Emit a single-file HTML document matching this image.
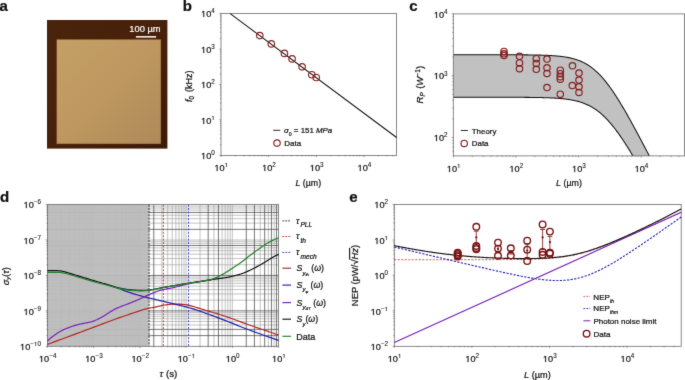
<!DOCTYPE html>
<html><head><meta charset="utf-8"><style>
html,body{margin:0;padding:0;background:#fff;width:685px;height:380px;overflow:hidden}
svg{display:block;will-change:transform}
text{font-family:"Liberation Sans", sans-serif;fill:#111;stroke:#111;stroke-width:0.22px}
.h1{fill-opacity:0;stroke-opacity:0}
</style></head><body>
<svg width="685" height="380" viewBox="0 0 685 380">
<defs><filter id="soft" x="0" y="0" width="685" height="380" filterUnits="userSpaceOnUse" color-interpolation-filters="sRGB"><feConvolveMatrix order="3" kernelMatrix="0.015 0.07 0.015 0.07 0.66 0.07 0.015 0.07 0.015" edgeMode="duplicate"/></filter></defs><g filter="url(#soft)">
<rect width="685" height="380" fill="#fff"/>
<defs><linearGradient id="tg" x1="0" y1="0" x2="1" y2="1"><stop offset="0" stop-color="#c5a066"/><stop offset="0.5" stop-color="#bd975f"/><stop offset="1" stop-color="#ae8a5b"/></linearGradient><linearGradient id="dg" x1="0" y1="0" x2="1" y2="1"><stop offset="0" stop-color="#4a230c"/><stop offset="0.6" stop-color="#46200a"/><stop offset="1" stop-color="#3a1a08"/></linearGradient></defs>
<rect x="47" y="20" width="120.4" height="128.6" fill="url(#dg)"/>
<rect x="56.5" y="39.2" width="104.5" height="104.8" fill="url(#tg)"/>
<rect x="56.5" y="39.2" width="104.5" height="104.8" fill="none" stroke="#6a2c12" stroke-width="0.5"/>
<text x="129.3" y="31.9" font-size="9.3" style="fill:#fff;stroke:#fff">100 µm</text>
<rect x="135.9" y="36.1" width="20.2" height="1.5" fill="#fff"/>
<text x="-0.6" y="11.3" font-size="15" font-weight="bold">a</text>
<text x="182.8" y="11.3" font-size="15" font-weight="bold">b</text>
<text x="409.3" y="11.4" font-size="15" font-weight="bold">c</text>
<text x="0" y="202" font-size="15" font-weight="bold">d</text>
<text x="349.2" y="202" font-size="15" font-weight="bold">e</text>
<rect x="221" y="13.6" width="175.6" height="141.8" fill="none" stroke="#6a6a6a" stroke-width="0.8"/>
<path d="M221,155.4 v1.6 M235.36,155.4 v1.0 M243.76,155.4 v1.0 M249.72,155.4 v1.0 M254.34,155.4 v1.0 M258.12,155.4 v1.0 M261.31,155.4 v1.0 M264.08,155.4 v1.0 M266.52,155.4 v1.0 M268.7,155.4 v1.6 M283.06,155.4 v1.0 M291.46,155.4 v1.0 M297.42,155.4 v1.0 M302.04,155.4 v1.0 M305.82,155.4 v1.0 M309.01,155.4 v1.0 M311.78,155.4 v1.0 M314.22,155.4 v1.0 M316.4,155.4 v1.6 M330.76,155.4 v1.0 M339.16,155.4 v1.0 M345.12,155.4 v1.0 M349.74,155.4 v1.0 M353.52,155.4 v1.0 M356.71,155.4 v1.0 M359.48,155.4 v1.0 M361.92,155.4 v1.0 M364.1,155.4 v1.6 M378.46,155.4 v1.0 M386.86,155.4 v1.0 M392.82,155.4 v1.0 M221,155.4 h-1.6 M221,144.73 h-1.0 M221,138.49 h-1.0 M221,134.06 h-1.0 M221,130.62 h-1.0 M221,127.81 h-1.0 M221,125.44 h-1.0 M221,123.39 h-1.0 M221,121.57 h-1.0 M221,119.95 h-1.6 M221,109.28 h-1.0 M221,103.04 h-1.0 M221,98.61 h-1.0 M221,95.17 h-1.0 M221,92.36 h-1.0 M221,89.99 h-1.0 M221,87.94 h-1.0 M221,86.12 h-1.0 M221,84.5 h-1.6 M221,73.83 h-1.0 M221,67.59 h-1.0 M221,63.16 h-1.0 M221,59.72 h-1.0 M221,56.91 h-1.0 M221,54.54 h-1.0 M221,52.49 h-1.0 M221,50.67 h-1.0 M221,49.05 h-1.6 M221,38.38 h-1.0 M221,32.14 h-1.0 M221,27.71 h-1.0 M221,24.27 h-1.0 M221,21.46 h-1.0 M221,19.09 h-1.0 M221,17.04 h-1.0 M221,15.22 h-1.0 M221,13.6 h-1.6" stroke="#555" stroke-width="0.6" fill="none"/>
<text x="221.3" y="170.8" text-anchor="middle" font-size="9.2"><tspan class="h1">1</tspan>0<tspan font-size="6.3" dy="-3.9" style="stroke-width:0.08px"><tspan class="h1">1</tspan></tspan></text>
<text x="269" y="170.8" text-anchor="middle" font-size="9.2"><tspan class="h1">1</tspan>0<tspan font-size="6.3" dy="-3.9" style="stroke-width:0.08px">2</tspan></text>
<text x="316.7" y="170.8" text-anchor="middle" font-size="9.2"><tspan class="h1">1</tspan>0<tspan font-size="6.3" dy="-3.9" style="stroke-width:0.08px">3</tspan></text>
<text x="364.4" y="170.8" text-anchor="middle" font-size="9.2"><tspan class="h1">1</tspan>0<tspan font-size="6.3" dy="-3.9" style="stroke-width:0.08px">4</tspan></text>
<text x="214.8" y="159.1" text-anchor="end" font-size="9.2"><tspan class="h1">1</tspan>0<tspan font-size="6.3" dy="-3.9" style="stroke-width:0.08px">0</tspan></text>
<text x="214.8" y="123.65" text-anchor="end" font-size="9.2"><tspan class="h1">1</tspan>0<tspan font-size="6.3" dy="-3.9" style="stroke-width:0.08px"><tspan class="h1">1</tspan></tspan></text>
<text x="214.8" y="88.2" text-anchor="end" font-size="9.2"><tspan class="h1">1</tspan>0<tspan font-size="6.3" dy="-3.9" style="stroke-width:0.08px">2</tspan></text>
<text x="214.8" y="52.75" text-anchor="end" font-size="9.2"><tspan class="h1">1</tspan>0<tspan font-size="6.3" dy="-3.9" style="stroke-width:0.08px">3</tspan></text>
<text x="214.8" y="17.3" text-anchor="end" font-size="9.2"><tspan class="h1">1</tspan>0<tspan font-size="6.3" dy="-3.9" style="stroke-width:0.08px">4</tspan></text>
<line x1="230.2" y1="13.6" x2="396.6" y2="137.5" stroke="#111" stroke-width="1.05"/>
<circle cx="259.8" cy="35.6" r="3.25" fill="none" stroke="#862020" stroke-width="1.15"/>
<circle cx="271.3" cy="43.9" r="3.25" fill="none" stroke="#862020" stroke-width="1.15"/>
<circle cx="284.4" cy="53.4" r="3.25" fill="none" stroke="#862020" stroke-width="1.15"/>
<circle cx="292.1" cy="58.9" r="3.25" fill="none" stroke="#862020" stroke-width="1.15"/>
<circle cx="302.1" cy="66.8" r="3.25" fill="none" stroke="#862020" stroke-width="1.15"/>
<circle cx="311.8" cy="74.7" r="3.25" fill="none" stroke="#862020" stroke-width="1.15"/>
<circle cx="316.2" cy="77.5" r="3.25" fill="none" stroke="#862020" stroke-width="1.15"/>
<line x1="273.2" y1="130.3" x2="280.2" y2="130.3" stroke="#111" stroke-width="0.9"/>
<text x="284" y="133" font-size="7.9"><tspan font-style="italic">σ</tspan><tspan font-size="5.2" dy="3">0</tspan><tspan dy="-3"> = 151 </tspan><tspan font-style="italic">MPa</tspan></text>
<circle cx="277" cy="143.1" r="3.25" fill="none" stroke="#862020" stroke-width="1.15"/>
<text x="284.3" y="146" font-size="8">Data</text>
<text x="308.3" y="186" font-size="8.8" text-anchor="middle"><tspan font-style="italic">L</tspan> (µm)</text>
<text transform="translate(191.7,86.3) rotate(-90)" font-size="9" text-anchor="middle"><tspan font-style="italic">f</tspan><tspan font-size="6.3" dy="2">0</tspan><tspan dy="-2" dx="1.6"> (kHz)</tspan></text>
<path d="M453.4,54.74 L453.98,54.74 L454.56,54.74 L455.14,54.74 L455.72,54.74 L456.3,54.74 L456.87,54.74 L457.45,54.74 L458.03,54.74 L458.61,54.74 L459.19,54.74 L459.77,54.74 L460.35,54.74 L460.93,54.74 L461.51,54.74 L462.09,54.74 L462.66,54.74 L463.24,54.74 L463.82,54.74 L464.4,54.74 L464.98,54.74 L465.56,54.74 L466.14,54.74 L466.72,54.74 L467.3,54.74 L467.88,54.74 L468.46,54.74 L469.03,54.74 L469.61,54.74 L470.19,54.74 L470.77,54.74 L471.35,54.74 L471.93,54.74 L472.51,54.74 L473.09,54.74 L473.67,54.74 L474.25,54.74 L474.82,54.74 L475.4,54.74 L475.98,54.74 L476.56,54.74 L477.14,54.74 L477.72,54.74 L478.3,54.74 L478.88,54.74 L479.46,54.74 L480.04,54.74 L480.62,54.74 L481.19,54.74 L481.77,54.74 L482.35,54.74 L482.93,54.74 L483.51,54.74 L484.09,54.74 L484.67,54.74 L485.25,54.74 L485.83,54.74 L486.41,54.74 L486.98,54.75 L487.56,54.75 L488.14,54.75 L488.72,54.75 L489.3,54.75 L489.88,54.75 L490.46,54.75 L491.04,54.75 L491.62,54.75 L492.2,54.75 L492.78,54.75 L493.35,54.75 L493.93,54.75 L494.51,54.75 L495.09,54.75 L495.67,54.75 L496.25,54.75 L496.83,54.75 L497.41,54.75 L497.99,54.75 L498.57,54.76 L499.14,54.76 L499.72,54.76 L500.3,54.76 L500.88,54.76 L501.46,54.76 L502.04,54.76 L502.62,54.76 L503.2,54.76 L503.78,54.76 L504.36,54.76 L504.94,54.77 L505.51,54.77 L506.09,54.77 L506.67,54.77 L507.25,54.77 L507.83,54.77 L508.41,54.77 L508.99,54.78 L509.57,54.78 L510.15,54.78 L510.73,54.78 L511.3,54.78 L511.88,54.78 L512.46,54.79 L513.04,54.79 L513.62,54.79 L514.2,54.79 L514.78,54.8 L515.36,54.8 L515.94,54.8 L516.52,54.8 L517.1,54.81 L517.67,54.81 L518.25,54.81 L518.83,54.82 L519.41,54.82 L519.99,54.82 L520.57,54.83 L521.15,54.83 L521.73,54.83 L522.31,54.84 L522.89,54.84 L523.47,54.85 L524.04,54.85 L524.62,54.86 L525.2,54.86 L525.78,54.87 L526.36,54.87 L526.94,54.88 L527.52,54.89 L528.1,54.89 L528.68,54.9 L529.26,54.91 L529.83,54.91 L530.41,54.92 L530.99,54.93 L531.57,54.94 L532.15,54.95 L532.73,54.95 L533.31,54.96 L533.89,54.97 L534.47,54.98 L535.05,54.99 L535.63,55.01 L536.2,55.02 L536.78,55.03 L537.36,55.04 L537.94,55.05 L538.52,55.07 L539.1,55.08 L539.68,55.1 L540.26,55.11 L540.84,55.13 L541.42,55.15 L541.99,55.16 L542.57,55.18 L543.15,55.2 L543.73,55.22 L544.31,55.24 L544.89,55.26 L545.47,55.29 L546.05,55.31 L546.63,55.34 L547.21,55.36 L547.79,55.39 L548.36,55.42 L548.94,55.44 L549.52,55.47 L550.1,55.51 L550.68,55.54 L551.26,55.57 L551.84,55.61 L552.42,55.65 L553,55.69 L553.58,55.73 L554.15,55.77 L554.73,55.81 L555.31,55.86 L555.89,55.91 L556.47,55.95 L557.05,56.01 L557.63,56.06 L558.21,56.12 L558.79,56.17 L559.37,56.24 L559.95,56.3 L560.52,56.36 L561.1,56.43 L561.68,56.5 L562.26,56.58 L562.84,56.66 L563.42,56.74 L564,56.82 L564.58,56.91 L565.16,57 L565.74,57.09 L566.31,57.19 L566.89,57.29 L567.47,57.39 L568.05,57.5 L568.63,57.62 L569.21,57.74 L569.79,57.86 L570.37,57.99 L570.95,58.12 L571.53,58.26 L572.11,58.4 L572.68,58.55 L573.26,58.7 L573.84,58.86 L574.42,59.03 L575,59.2 L575.58,59.38 L576.16,59.56 L576.74,59.75 L577.32,59.95 L577.9,60.16 L578.47,60.37 L579.05,60.59 L579.63,60.82 L580.21,61.05 L580.79,61.3 L581.37,61.55 L581.95,61.81 L582.53,62.08 L583.11,62.35 L583.69,62.64 L584.27,62.94 L584.84,63.24 L585.42,63.56 L586,63.88 L586.58,64.21 L587.16,64.56 L587.74,64.91 L588.32,65.28 L588.9,65.66 L589.48,66.04 L590.06,66.44 L590.63,66.85 L591.21,67.27 L591.79,67.7 L592.37,68.14 L592.95,68.6 L593.53,69.06 L594.11,69.54 L594.69,70.03 L595.27,70.53 L595.85,71.05 L596.43,71.57 L597,72.11 L597.58,72.66 L598.16,73.22 L598.74,73.8 L599.32,74.38 L599.9,74.98 L600.48,75.59 L601.06,76.22 L601.64,76.85 L602.22,77.5 L602.79,78.16 L603.37,78.83 L603.95,79.51 L604.53,80.2 L605.11,80.91 L605.69,81.62 L606.27,82.35 L606.85,83.09 L607.43,83.84 L608.01,84.6 L608.59,85.37 L609.16,86.16 L609.74,86.95 L610.32,87.75 L610.9,88.56 L611.48,89.39 L612.06,90.22 L612.64,91.06 L613.22,91.91 L613.8,92.77 L614.38,93.64 L614.95,94.52 L615.53,95.4 L616.11,96.3 L616.69,97.2 L617.27,98.11 L617.85,99.03 L618.43,99.96 L619.01,100.89 L619.59,101.83 L620.17,102.78 L620.75,103.73 L621.32,104.69 L621.9,105.66 L622.48,106.63 L623.06,107.61 L623.64,108.6 L624.22,109.59 L624.8,110.58 L625.38,111.59 L625.96,112.59 L626.54,113.6 L627.12,114.62 L627.69,115.64 L628.27,116.67 L628.85,117.7 L629.43,118.73 L630.01,119.77 L630.59,120.81 L631.17,121.86 L631.75,122.91 L632.33,123.96 L632.91,125.02 L633.48,126.08 L634.06,127.14 L634.64,128.2 L635.22,129.27 L635.8,130.35 L636.38,131.42 L636.96,132.5 L637.54,133.58 L638.12,134.66 L638.7,135.74 L639.28,136.83 L639.85,137.92 L640.43,139.01 L641.01,140.1 L641.59,141.2 L642.17,142.29 L642.75,143.39 L643.33,144.49 L643.91,145.59 L644.49,146.7 L645.07,147.8 L645.64,148.91 L646.22,150.02 L646.8,151.13 L647.38,152.24 L647.96,153.35 L648.54,154.46 L649.12,155.58 L649.29,155.9 L632.93,155.9 L632.91,155.87 L632.33,154.9 L631.75,153.94 L631.17,152.98 L630.59,152.03 L630.01,151.08 L629.43,150.14 L628.85,149.21 L628.27,148.28 L627.69,147.35 L627.12,146.43 L626.54,145.52 L625.96,144.61 L625.38,143.71 L624.8,142.82 L624.22,141.93 L623.64,141.05 L623.06,140.17 L622.48,139.31 L621.9,138.45 L621.32,137.6 L620.75,136.75 L620.17,135.92 L619.59,135.09 L619.01,134.27 L618.43,133.46 L617.85,132.65 L617.27,131.86 L616.69,131.07 L616.11,130.29 L615.53,129.53 L614.95,128.77 L614.38,128.02 L613.8,127.28 L613.22,126.55 L612.64,125.83 L612.06,125.12 L611.48,124.42 L610.9,123.73 L610.32,123.05 L609.74,122.38 L609.16,121.73 L608.59,121.08 L608.01,120.44 L607.43,119.82 L606.85,119.2 L606.27,118.6 L605.69,118.01 L605.11,117.42 L604.53,116.85 L603.95,116.29 L603.37,115.74 L602.79,115.21 L602.22,114.68 L601.64,114.16 L601.06,113.66 L600.48,113.17 L599.9,112.68 L599.32,112.21 L598.74,111.75 L598.16,111.3 L597.58,110.86 L597,110.43 L596.43,110.01 L595.85,109.61 L595.27,109.21 L594.69,108.82 L594.11,108.45 L593.53,108.08 L592.95,107.72 L592.37,107.37 L591.79,107.03 L591.21,106.71 L590.63,106.39 L590.06,106.08 L589.48,105.78 L588.9,105.48 L588.32,105.2 L587.74,104.92 L587.16,104.66 L586.58,104.4 L586,104.15 L585.42,103.9 L584.84,103.67 L584.27,103.44 L583.69,103.22 L583.11,103 L582.53,102.8 L581.95,102.59 L581.37,102.4 L580.79,102.21 L580.21,102.03 L579.63,101.86 L579.05,101.69 L578.47,101.52 L577.9,101.37 L577.32,101.21 L576.74,101.07 L576.16,100.92 L575.58,100.79 L575,100.65 L574.42,100.53 L573.84,100.4 L573.26,100.28 L572.68,100.17 L572.11,100.06 L571.53,99.95 L570.95,99.85 L570.37,99.75 L569.79,99.65 L569.21,99.56 L568.63,99.47 L568.05,99.39 L567.47,99.31 L566.89,99.23 L566.31,99.15 L565.74,99.08 L565.16,99.01 L564.58,98.94 L564,98.87 L563.42,98.81 L562.84,98.75 L562.26,98.69 L561.68,98.63 L561.1,98.58 L560.52,98.53 L559.95,98.48 L559.37,98.43 L558.79,98.38 L558.21,98.34 L557.63,98.3 L557.05,98.26 L556.47,98.22 L555.89,98.18 L555.31,98.14 L554.73,98.11 L554.15,98.07 L553.58,98.04 L553,98.01 L552.42,97.98 L551.84,97.95 L551.26,97.92 L550.68,97.9 L550.1,97.87 L549.52,97.85 L548.94,97.82 L548.36,97.8 L547.79,97.78 L547.21,97.76 L546.63,97.74 L546.05,97.72 L545.47,97.7 L544.89,97.68 L544.31,97.66 L543.73,97.65 L543.15,97.63 L542.57,97.61 L541.99,97.6 L541.42,97.59 L540.84,97.57 L540.26,97.56 L539.68,97.55 L539.1,97.53 L538.52,97.52 L537.94,97.51 L537.36,97.5 L536.78,97.49 L536.2,97.48 L535.63,97.47 L535.05,97.46 L534.47,97.45 L533.89,97.45 L533.31,97.44 L532.73,97.43 L532.15,97.42 L531.57,97.42 L530.99,97.41 L530.41,97.4 L529.83,97.4 L529.26,97.39 L528.68,97.38 L528.1,97.38 L527.52,97.37 L526.94,97.37 L526.36,97.36 L525.78,97.36 L525.2,97.35 L524.62,97.35 L524.04,97.35 L523.47,97.34 L522.89,97.34 L522.31,97.33 L521.73,97.33 L521.15,97.33 L520.57,97.32 L519.99,97.32 L519.41,97.32 L518.83,97.31 L518.25,97.31 L517.67,97.31 L517.1,97.31 L516.52,97.3 L515.94,97.3 L515.36,97.3 L514.78,97.3 L514.2,97.29 L513.62,97.29 L513.04,97.29 L512.46,97.29 L511.88,97.29 L511.3,97.29 L510.73,97.28 L510.15,97.28 L509.57,97.28 L508.99,97.28 L508.41,97.28 L507.83,97.28 L507.25,97.27 L506.67,97.27 L506.09,97.27 L505.51,97.27 L504.94,97.27 L504.36,97.27 L503.78,97.27 L503.2,97.27 L502.62,97.27 L502.04,97.27 L501.46,97.26 L500.88,97.26 L500.3,97.26 L499.72,97.26 L499.14,97.26 L498.57,97.26 L497.99,97.26 L497.41,97.26 L496.83,97.26 L496.25,97.26 L495.67,97.26 L495.09,97.26 L494.51,97.26 L493.93,97.26 L493.35,97.26 L492.78,97.25 L492.2,97.25 L491.62,97.25 L491.04,97.25 L490.46,97.25 L489.88,97.25 L489.3,97.25 L488.72,97.25 L488.14,97.25 L487.56,97.25 L486.98,97.25 L486.41,97.25 L485.83,97.25 L485.25,97.25 L484.67,97.25 L484.09,97.25 L483.51,97.25 L482.93,97.25 L482.35,97.25 L481.77,97.25 L481.19,97.25 L480.62,97.25 L480.04,97.25 L479.46,97.25 L478.88,97.25 L478.3,97.25 L477.72,97.25 L477.14,97.25 L476.56,97.25 L475.98,97.25 L475.4,97.25 L474.82,97.25 L474.25,97.25 L473.67,97.25 L473.09,97.25 L472.51,97.25 L471.93,97.25 L471.35,97.25 L470.77,97.25 L470.19,97.25 L469.61,97.25 L469.03,97.25 L468.46,97.25 L467.88,97.25 L467.3,97.25 L466.72,97.25 L466.14,97.25 L465.56,97.25 L464.98,97.25 L464.4,97.25 L463.82,97.24 L463.24,97.24 L462.66,97.24 L462.09,97.24 L461.51,97.24 L460.93,97.24 L460.35,97.24 L459.77,97.24 L459.19,97.24 L458.61,97.24 L458.03,97.24 L457.45,97.24 L456.87,97.24 L456.3,97.24 L455.72,97.24 L455.14,97.24 L454.56,97.24 L453.98,97.24 L453.4,97.24 Z" fill="#c1c1c1" stroke="none"/>
<path d="M453.4,54.74 L453.98,54.74 L454.56,54.74 L455.14,54.74 L455.72,54.74 L456.3,54.74 L456.87,54.74 L457.45,54.74 L458.03,54.74 L458.61,54.74 L459.19,54.74 L459.77,54.74 L460.35,54.74 L460.93,54.74 L461.51,54.74 L462.09,54.74 L462.66,54.74 L463.24,54.74 L463.82,54.74 L464.4,54.74 L464.98,54.74 L465.56,54.74 L466.14,54.74 L466.72,54.74 L467.3,54.74 L467.88,54.74 L468.46,54.74 L469.03,54.74 L469.61,54.74 L470.19,54.74 L470.77,54.74 L471.35,54.74 L471.93,54.74 L472.51,54.74 L473.09,54.74 L473.67,54.74 L474.25,54.74 L474.82,54.74 L475.4,54.74 L475.98,54.74 L476.56,54.74 L477.14,54.74 L477.72,54.74 L478.3,54.74 L478.88,54.74 L479.46,54.74 L480.04,54.74 L480.62,54.74 L481.19,54.74 L481.77,54.74 L482.35,54.74 L482.93,54.74 L483.51,54.74 L484.09,54.74 L484.67,54.74 L485.25,54.74 L485.83,54.74 L486.41,54.74 L486.98,54.75 L487.56,54.75 L488.14,54.75 L488.72,54.75 L489.3,54.75 L489.88,54.75 L490.46,54.75 L491.04,54.75 L491.62,54.75 L492.2,54.75 L492.78,54.75 L493.35,54.75 L493.93,54.75 L494.51,54.75 L495.09,54.75 L495.67,54.75 L496.25,54.75 L496.83,54.75 L497.41,54.75 L497.99,54.75 L498.57,54.76 L499.14,54.76 L499.72,54.76 L500.3,54.76 L500.88,54.76 L501.46,54.76 L502.04,54.76 L502.62,54.76 L503.2,54.76 L503.78,54.76 L504.36,54.76 L504.94,54.77 L505.51,54.77 L506.09,54.77 L506.67,54.77 L507.25,54.77 L507.83,54.77 L508.41,54.77 L508.99,54.78 L509.57,54.78 L510.15,54.78 L510.73,54.78 L511.3,54.78 L511.88,54.78 L512.46,54.79 L513.04,54.79 L513.62,54.79 L514.2,54.79 L514.78,54.8 L515.36,54.8 L515.94,54.8 L516.52,54.8 L517.1,54.81 L517.67,54.81 L518.25,54.81 L518.83,54.82 L519.41,54.82 L519.99,54.82 L520.57,54.83 L521.15,54.83 L521.73,54.83 L522.31,54.84 L522.89,54.84 L523.47,54.85 L524.04,54.85 L524.62,54.86 L525.2,54.86 L525.78,54.87 L526.36,54.87 L526.94,54.88 L527.52,54.89 L528.1,54.89 L528.68,54.9 L529.26,54.91 L529.83,54.91 L530.41,54.92 L530.99,54.93 L531.57,54.94 L532.15,54.95 L532.73,54.95 L533.31,54.96 L533.89,54.97 L534.47,54.98 L535.05,54.99 L535.63,55.01 L536.2,55.02 L536.78,55.03 L537.36,55.04 L537.94,55.05 L538.52,55.07 L539.1,55.08 L539.68,55.1 L540.26,55.11 L540.84,55.13 L541.42,55.15 L541.99,55.16 L542.57,55.18 L543.15,55.2 L543.73,55.22 L544.31,55.24 L544.89,55.26 L545.47,55.29 L546.05,55.31 L546.63,55.34 L547.21,55.36 L547.79,55.39 L548.36,55.42 L548.94,55.44 L549.52,55.47 L550.1,55.51 L550.68,55.54 L551.26,55.57 L551.84,55.61 L552.42,55.65 L553,55.69 L553.58,55.73 L554.15,55.77 L554.73,55.81 L555.31,55.86 L555.89,55.91 L556.47,55.95 L557.05,56.01 L557.63,56.06 L558.21,56.12 L558.79,56.17 L559.37,56.24 L559.95,56.3 L560.52,56.36 L561.1,56.43 L561.68,56.5 L562.26,56.58 L562.84,56.66 L563.42,56.74 L564,56.82 L564.58,56.91 L565.16,57 L565.74,57.09 L566.31,57.19 L566.89,57.29 L567.47,57.39 L568.05,57.5 L568.63,57.62 L569.21,57.74 L569.79,57.86 L570.37,57.99 L570.95,58.12 L571.53,58.26 L572.11,58.4 L572.68,58.55 L573.26,58.7 L573.84,58.86 L574.42,59.03 L575,59.2 L575.58,59.38 L576.16,59.56 L576.74,59.75 L577.32,59.95 L577.9,60.16 L578.47,60.37 L579.05,60.59 L579.63,60.82 L580.21,61.05 L580.79,61.3 L581.37,61.55 L581.95,61.81 L582.53,62.08 L583.11,62.35 L583.69,62.64 L584.27,62.94 L584.84,63.24 L585.42,63.56 L586,63.88 L586.58,64.21 L587.16,64.56 L587.74,64.91 L588.32,65.28 L588.9,65.66 L589.48,66.04 L590.06,66.44 L590.63,66.85 L591.21,67.27 L591.79,67.7 L592.37,68.14 L592.95,68.6 L593.53,69.06 L594.11,69.54 L594.69,70.03 L595.27,70.53 L595.85,71.05 L596.43,71.57 L597,72.11 L597.58,72.66 L598.16,73.22 L598.74,73.8 L599.32,74.38 L599.9,74.98 L600.48,75.59 L601.06,76.22 L601.64,76.85 L602.22,77.5 L602.79,78.16 L603.37,78.83 L603.95,79.51 L604.53,80.2 L605.11,80.91 L605.69,81.62 L606.27,82.35 L606.85,83.09 L607.43,83.84 L608.01,84.6 L608.59,85.37 L609.16,86.16 L609.74,86.95 L610.32,87.75 L610.9,88.56 L611.48,89.39 L612.06,90.22 L612.64,91.06 L613.22,91.91 L613.8,92.77 L614.38,93.64 L614.95,94.52 L615.53,95.4 L616.11,96.3 L616.69,97.2 L617.27,98.11 L617.85,99.03 L618.43,99.96 L619.01,100.89 L619.59,101.83 L620.17,102.78 L620.75,103.73 L621.32,104.69 L621.9,105.66 L622.48,106.63 L623.06,107.61 L623.64,108.6 L624.22,109.59 L624.8,110.58 L625.38,111.59 L625.96,112.59 L626.54,113.6 L627.12,114.62 L627.69,115.64 L628.27,116.67 L628.85,117.7 L629.43,118.73 L630.01,119.77 L630.59,120.81 L631.17,121.86 L631.75,122.91 L632.33,123.96 L632.91,125.02 L633.48,126.08 L634.06,127.14 L634.64,128.2 L635.22,129.27 L635.8,130.35 L636.38,131.42 L636.96,132.5 L637.54,133.58 L638.12,134.66 L638.7,135.74 L639.28,136.83 L639.85,137.92 L640.43,139.01 L641.01,140.1 L641.59,141.2 L642.17,142.29 L642.75,143.39 L643.33,144.49 L643.91,145.59 L644.49,146.7 L645.07,147.8 L645.64,148.91 L646.22,150.02 L646.8,151.13 L647.38,152.24 L647.96,153.35 L648.54,154.46 L649.12,155.58 L649.29,155.9" fill="none" stroke="#111" stroke-width="1.05"/>
<path d="M453.4,97.24 L453.98,97.24 L454.56,97.24 L455.14,97.24 L455.72,97.24 L456.3,97.24 L456.87,97.24 L457.45,97.24 L458.03,97.24 L458.61,97.24 L459.19,97.24 L459.77,97.24 L460.35,97.24 L460.93,97.24 L461.51,97.24 L462.09,97.24 L462.66,97.24 L463.24,97.24 L463.82,97.24 L464.4,97.25 L464.98,97.25 L465.56,97.25 L466.14,97.25 L466.72,97.25 L467.3,97.25 L467.88,97.25 L468.46,97.25 L469.03,97.25 L469.61,97.25 L470.19,97.25 L470.77,97.25 L471.35,97.25 L471.93,97.25 L472.51,97.25 L473.09,97.25 L473.67,97.25 L474.25,97.25 L474.82,97.25 L475.4,97.25 L475.98,97.25 L476.56,97.25 L477.14,97.25 L477.72,97.25 L478.3,97.25 L478.88,97.25 L479.46,97.25 L480.04,97.25 L480.62,97.25 L481.19,97.25 L481.77,97.25 L482.35,97.25 L482.93,97.25 L483.51,97.25 L484.09,97.25 L484.67,97.25 L485.25,97.25 L485.83,97.25 L486.41,97.25 L486.98,97.25 L487.56,97.25 L488.14,97.25 L488.72,97.25 L489.3,97.25 L489.88,97.25 L490.46,97.25 L491.04,97.25 L491.62,97.25 L492.2,97.25 L492.78,97.25 L493.35,97.26 L493.93,97.26 L494.51,97.26 L495.09,97.26 L495.67,97.26 L496.25,97.26 L496.83,97.26 L497.41,97.26 L497.99,97.26 L498.57,97.26 L499.14,97.26 L499.72,97.26 L500.3,97.26 L500.88,97.26 L501.46,97.26 L502.04,97.27 L502.62,97.27 L503.2,97.27 L503.78,97.27 L504.36,97.27 L504.94,97.27 L505.51,97.27 L506.09,97.27 L506.67,97.27 L507.25,97.27 L507.83,97.28 L508.41,97.28 L508.99,97.28 L509.57,97.28 L510.15,97.28 L510.73,97.28 L511.3,97.29 L511.88,97.29 L512.46,97.29 L513.04,97.29 L513.62,97.29 L514.2,97.29 L514.78,97.3 L515.36,97.3 L515.94,97.3 L516.52,97.3 L517.1,97.31 L517.67,97.31 L518.25,97.31 L518.83,97.31 L519.41,97.32 L519.99,97.32 L520.57,97.32 L521.15,97.33 L521.73,97.33 L522.31,97.33 L522.89,97.34 L523.47,97.34 L524.04,97.35 L524.62,97.35 L525.2,97.35 L525.78,97.36 L526.36,97.36 L526.94,97.37 L527.52,97.37 L528.1,97.38 L528.68,97.38 L529.26,97.39 L529.83,97.4 L530.41,97.4 L530.99,97.41 L531.57,97.42 L532.15,97.42 L532.73,97.43 L533.31,97.44 L533.89,97.45 L534.47,97.45 L535.05,97.46 L535.63,97.47 L536.2,97.48 L536.78,97.49 L537.36,97.5 L537.94,97.51 L538.52,97.52 L539.1,97.53 L539.68,97.55 L540.26,97.56 L540.84,97.57 L541.42,97.59 L541.99,97.6 L542.57,97.61 L543.15,97.63 L543.73,97.65 L544.31,97.66 L544.89,97.68 L545.47,97.7 L546.05,97.72 L546.63,97.74 L547.21,97.76 L547.79,97.78 L548.36,97.8 L548.94,97.82 L549.52,97.85 L550.1,97.87 L550.68,97.9 L551.26,97.92 L551.84,97.95 L552.42,97.98 L553,98.01 L553.58,98.04 L554.15,98.07 L554.73,98.11 L555.31,98.14 L555.89,98.18 L556.47,98.22 L557.05,98.26 L557.63,98.3 L558.21,98.34 L558.79,98.38 L559.37,98.43 L559.95,98.48 L560.52,98.53 L561.1,98.58 L561.68,98.63 L562.26,98.69 L562.84,98.75 L563.42,98.81 L564,98.87 L564.58,98.94 L565.16,99.01 L565.74,99.08 L566.31,99.15 L566.89,99.23 L567.47,99.31 L568.05,99.39 L568.63,99.47 L569.21,99.56 L569.79,99.65 L570.37,99.75 L570.95,99.85 L571.53,99.95 L572.11,100.06 L572.68,100.17 L573.26,100.28 L573.84,100.4 L574.42,100.53 L575,100.65 L575.58,100.79 L576.16,100.92 L576.74,101.07 L577.32,101.21 L577.9,101.37 L578.47,101.52 L579.05,101.69 L579.63,101.86 L580.21,102.03 L580.79,102.21 L581.37,102.4 L581.95,102.59 L582.53,102.8 L583.11,103 L583.69,103.22 L584.27,103.44 L584.84,103.67 L585.42,103.9 L586,104.15 L586.58,104.4 L587.16,104.66 L587.74,104.92 L588.32,105.2 L588.9,105.48 L589.48,105.78 L590.06,106.08 L590.63,106.39 L591.21,106.71 L591.79,107.03 L592.37,107.37 L592.95,107.72 L593.53,108.08 L594.11,108.45 L594.69,108.82 L595.27,109.21 L595.85,109.61 L596.43,110.01 L597,110.43 L597.58,110.86 L598.16,111.3 L598.74,111.75 L599.32,112.21 L599.9,112.68 L600.48,113.17 L601.06,113.66 L601.64,114.16 L602.22,114.68 L602.79,115.21 L603.37,115.74 L603.95,116.29 L604.53,116.85 L605.11,117.42 L605.69,118.01 L606.27,118.6 L606.85,119.2 L607.43,119.82 L608.01,120.44 L608.59,121.08 L609.16,121.73 L609.74,122.38 L610.32,123.05 L610.9,123.73 L611.48,124.42 L612.06,125.12 L612.64,125.83 L613.22,126.55 L613.8,127.28 L614.38,128.02 L614.95,128.77 L615.53,129.53 L616.11,130.29 L616.69,131.07 L617.27,131.86 L617.85,132.65 L618.43,133.46 L619.01,134.27 L619.59,135.09 L620.17,135.92 L620.75,136.75 L621.32,137.6 L621.9,138.45 L622.48,139.31 L623.06,140.17 L623.64,141.05 L624.22,141.93 L624.8,142.82 L625.38,143.71 L625.96,144.61 L626.54,145.52 L627.12,146.43 L627.69,147.35 L628.27,148.28 L628.85,149.21 L629.43,150.14 L630.01,151.08 L630.59,152.03 L631.17,152.98 L631.75,153.94 L632.33,154.9 L632.91,155.87 L632.93,155.9" fill="none" stroke="#111" stroke-width="1.05"/>
<rect x="453.3" y="13.9" width="231.2" height="142" fill="none" stroke="#6a6a6a" stroke-width="0.8"/>
<path d="M453.4,155.9 v1.6 M472.24,155.9 v1.0 M483.27,155.9 v1.0 M491.09,155.9 v1.0 M497.16,155.9 v1.0 M502.11,155.9 v1.0 M506.3,155.9 v1.0 M509.93,155.9 v1.0 M513.14,155.9 v1.0 M516,155.9 v1.6 M534.84,155.9 v1.0 M545.87,155.9 v1.0 M553.69,155.9 v1.0 M559.76,155.9 v1.0 M564.71,155.9 v1.0 M568.9,155.9 v1.0 M572.53,155.9 v1.0 M575.74,155.9 v1.0 M578.6,155.9 v1.6 M597.44,155.9 v1.0 M608.47,155.9 v1.0 M616.29,155.9 v1.0 M622.36,155.9 v1.0 M627.31,155.9 v1.0 M631.5,155.9 v1.0 M635.13,155.9 v1.0 M638.34,155.9 v1.0 M641.2,155.9 v1.6 M660.04,155.9 v1.0 M671.07,155.9 v1.0 M678.89,155.9 v1.0 M453.3,151.21 h-1.0 M453.3,147.07 h-1.0 M453.3,143.49 h-1.0 M453.3,140.33 h-1.0 M453.3,137.5 h-1.6 M453.3,118.9 h-1.0 M453.3,108.01 h-1.0 M453.3,100.29 h-1.0 M453.3,94.3 h-1.0 M453.3,89.41 h-1.0 M453.3,85.27 h-1.0 M453.3,81.69 h-1.0 M453.3,78.53 h-1.0 M453.3,75.7 h-1.6 M453.3,57.1 h-1.0 M453.3,46.21 h-1.0 M453.3,38.49 h-1.0 M453.3,32.5 h-1.0 M453.3,27.61 h-1.0 M453.3,23.47 h-1.0 M453.3,19.89 h-1.0 M453.3,16.73 h-1.0 M453.3,13.9 h-1.6" stroke="#555" stroke-width="0.6" fill="none"/>
<text x="453.7" y="171.5" text-anchor="middle" font-size="9.2"><tspan class="h1">1</tspan>0<tspan font-size="6.3" dy="-3.9" style="stroke-width:0.08px"><tspan class="h1">1</tspan></tspan></text>
<text x="516.3" y="171.5" text-anchor="middle" font-size="9.2"><tspan class="h1">1</tspan>0<tspan font-size="6.3" dy="-3.9" style="stroke-width:0.08px">2</tspan></text>
<text x="578.9" y="171.5" text-anchor="middle" font-size="9.2"><tspan class="h1">1</tspan>0<tspan font-size="6.3" dy="-3.9" style="stroke-width:0.08px">3</tspan></text>
<text x="641.5" y="171.5" text-anchor="middle" font-size="9.2"><tspan class="h1">1</tspan>0<tspan font-size="6.3" dy="-3.9" style="stroke-width:0.08px">4</tspan></text>
<text x="447.6" y="141.2" text-anchor="end" font-size="9.2"><tspan class="h1">1</tspan>0<tspan font-size="6.3" dy="-3.9" style="stroke-width:0.08px">2</tspan></text>
<text x="447.6" y="79.4" text-anchor="end" font-size="9.2"><tspan class="h1">1</tspan>0<tspan font-size="6.3" dy="-3.9" style="stroke-width:0.08px">3</tspan></text>
<text x="447.6" y="17.6" text-anchor="end" font-size="9.2"><tspan class="h1">1</tspan>0<tspan font-size="6.3" dy="-3.9" style="stroke-width:0.08px">4</tspan></text>
<circle cx="504" cy="51.4" r="3.2" fill="none" stroke="#861818" stroke-width="1.15"/>
<circle cx="504" cy="53.8" r="3.2" fill="none" stroke="#861818" stroke-width="1.15"/>
<circle cx="504" cy="55.5" r="3.2" fill="none" stroke="#861818" stroke-width="1.15"/>
<circle cx="519.5" cy="56.3" r="3.2" fill="none" stroke="#861818" stroke-width="1.15"/>
<circle cx="519.5" cy="62.9" r="3.2" fill="none" stroke="#861818" stroke-width="1.15"/>
<circle cx="519.5" cy="68.7" r="3.2" fill="none" stroke="#861818" stroke-width="1.15"/>
<circle cx="536.3" cy="58.7" r="3.2" fill="none" stroke="#861818" stroke-width="1.15"/>
<circle cx="536.3" cy="63.4" r="3.2" fill="none" stroke="#861818" stroke-width="1.15"/>
<circle cx="536.3" cy="69.3" r="3.2" fill="none" stroke="#861818" stroke-width="1.15"/>
<circle cx="547" cy="59" r="3.2" fill="none" stroke="#861818" stroke-width="1.15"/>
<circle cx="547" cy="67.8" r="3.2" fill="none" stroke="#861818" stroke-width="1.15"/>
<circle cx="547" cy="73.4" r="3.2" fill="none" stroke="#861818" stroke-width="1.15"/>
<circle cx="547" cy="87.5" r="3.2" fill="none" stroke="#861818" stroke-width="1.15"/>
<circle cx="560.3" cy="70.2" r="3.2" fill="none" stroke="#861818" stroke-width="1.15"/>
<circle cx="560.3" cy="73.7" r="3.2" fill="none" stroke="#861818" stroke-width="1.15"/>
<circle cx="560.3" cy="76.8" r="3.2" fill="none" stroke="#861818" stroke-width="1.15"/>
<circle cx="560.3" cy="79.2" r="3.2" fill="none" stroke="#861818" stroke-width="1.15"/>
<circle cx="560.3" cy="94.2" r="3.2" fill="none" stroke="#861818" stroke-width="1.15"/>
<circle cx="572.5" cy="65.8" r="3.2" fill="none" stroke="#861818" stroke-width="1.15"/>
<circle cx="572.3" cy="85.5" r="3.2" fill="none" stroke="#861818" stroke-width="1.15"/>
<circle cx="579" cy="73" r="3.2" fill="none" stroke="#861818" stroke-width="1.15"/>
<circle cx="579" cy="80" r="3.2" fill="none" stroke="#861818" stroke-width="1.15"/>
<circle cx="579" cy="86.8" r="3.2" fill="none" stroke="#861818" stroke-width="1.15"/>
<circle cx="579" cy="92.4" r="3.2" fill="none" stroke="#861818" stroke-width="1.15"/>
<line x1="460.9" y1="130.5" x2="467.9" y2="130.5" stroke="#111" stroke-width="0.9"/>
<text x="471.8" y="133.8" font-size="7.9">Theory</text>
<circle cx="464.2" cy="143.4" r="3.2" fill="none" stroke="#861818" stroke-width="1.15"/>
<text x="471.8" y="146.1" font-size="7.9">Data</text>
<text x="569" y="185.6" font-size="8.9" text-anchor="middle"><tspan font-style="italic">L</tspan> (µm)</text>
<text transform="translate(423.4,84.7) rotate(-90)" font-size="9.6" text-anchor="middle"><tspan font-style="italic">R</tspan><tspan font-size="6.4" dy="2" font-style="italic">P</tspan><tspan dy="-2" dx="0.8"> (</tspan><tspan font-style="italic">W</tspan><tspan font-size="6.6" dy="-3.9">−1</tspan><tspan dy="3.9">)</tspan></text>
<path d="M61.32,204.6 V346.3 M69.46,204.6 V346.3 M75.24,204.6 V346.3 M79.72,204.6 V346.3 M83.38,204.6 V346.3 M86.48,204.6 V346.3 M89.16,204.6 V346.3 M91.52,204.6 V346.3 M93.64,204.6 V346.3 M107.56,204.6 V346.3 M115.7,204.6 V346.3 M121.48,204.6 V346.3 M125.96,204.6 V346.3 M129.62,204.6 V346.3 M132.72,204.6 V346.3 M135.4,204.6 V346.3 M137.76,204.6 V346.3 M139.88,204.6 V346.3 M161.94,204.6 V346.3 M167.72,204.6 V346.3 M172.2,204.6 V346.3 M175.86,204.6 V346.3 M178.96,204.6 V346.3 M181.64,204.6 V346.3 M184,204.6 V346.3 M186.12,204.6 V346.3 M200.04,204.6 V346.3 M213.96,204.6 V346.3 M222.1,204.6 V346.3 M225.2,204.6 V346.3 M227.88,204.6 V346.3 M230.24,204.6 V346.3 M232.36,204.6 V346.3 M260.2,204.6 V346.3 M268.34,204.6 V346.3 M274.12,204.6 V346.3 M47.4,324.96 H278.6 M47.4,321.52 H278.6 M47.4,318.72 H278.6 M47.4,316.35 H278.6 M47.4,314.29 H278.6 M47.4,312.48 H278.6 M47.4,300.2 H278.6 M47.4,293.96 H278.6 M47.4,289.54 H278.6 M47.4,286.1 H278.6 M47.4,283.3 H278.6 M47.4,280.93 H278.6 M47.4,278.87 H278.6 M47.4,277.06 H278.6 M47.4,264.78 H278.6 M47.4,258.54 H278.6 M47.4,254.12 H278.6 M47.4,250.68 H278.6 M47.4,247.88 H278.6 M47.4,243.45 H278.6 M47.4,241.64 H278.6 M47.4,240.02 H278.6 M47.4,223.12 H278.6 M47.4,218.7 H278.6 M47.4,215.26 H278.6 M47.4,210.09 H278.6 M47.4,208.03 H278.6 M47.4,206.22 H278.6" stroke="#a8a8a8" stroke-width="0.7" fill="none"/>
<path d="M153.8,204.6 V346.3 M208.18,204.6 V346.3 M218.44,204.6 V346.3 M246.28,204.6 V346.3 M254.42,204.6 V346.3 M264.68,204.6 V346.3 M271.44,204.6 V346.3 M276.48,204.6 V346.3 M47.4,335.62 H278.6 M47.4,329.38 H278.6 M47.4,310.86 H278.6 M47.4,275.44 H278.6 M47.4,245.51 H278.6 M47.4,229.36 H278.6 M47.4,212.46 H278.6" stroke="#4a4a4a" stroke-width="0.75" fill="none"/>
<rect x="47.4" y="204.6" width="101" height="141.7" fill="#bababa" fill-opacity="0.94"/>
<rect x="47.4" y="204.6" width="231.2" height="141.7" fill="none" stroke="#6a6a6a" stroke-width="0.8"/>
<path d="M47.4,346.3 v1.6 M61.32,346.3 v1.0 M69.46,346.3 v1.0 M75.24,346.3 v1.0 M79.72,346.3 v1.0 M83.38,346.3 v1.0 M86.48,346.3 v1.0 M89.16,346.3 v1.0 M91.52,346.3 v1.0 M93.64,346.3 v1.6 M107.56,346.3 v1.0 M115.7,346.3 v1.0 M121.48,346.3 v1.0 M125.96,346.3 v1.0 M129.62,346.3 v1.0 M132.72,346.3 v1.0 M135.4,346.3 v1.0 M137.76,346.3 v1.0 M139.88,346.3 v1.6 M153.8,346.3 v1.0 M161.94,346.3 v1.0 M167.72,346.3 v1.0 M172.2,346.3 v1.0 M175.86,346.3 v1.0 M178.96,346.3 v1.0 M181.64,346.3 v1.0 M184,346.3 v1.0 M186.12,346.3 v1.6 M200.04,346.3 v1.0 M208.18,346.3 v1.0 M213.96,346.3 v1.0 M218.44,346.3 v1.0 M222.1,346.3 v1.0 M225.2,346.3 v1.0 M227.88,346.3 v1.0 M230.24,346.3 v1.0 M232.36,346.3 v1.6 M246.28,346.3 v1.0 M254.42,346.3 v1.0 M260.2,346.3 v1.0 M264.68,346.3 v1.0 M268.34,346.3 v1.0 M271.44,346.3 v1.0 M274.12,346.3 v1.0 M276.48,346.3 v1.0 M278.6,346.3 v1.6 M47.4,346.28 h-1.6 M47.4,335.62 h-1.0 M47.4,329.38 h-1.0 M47.4,324.96 h-1.0 M47.4,321.52 h-1.0 M47.4,318.72 h-1.0 M47.4,316.35 h-1.0 M47.4,314.29 h-1.0 M47.4,312.48 h-1.0 M47.4,310.86 h-1.6 M47.4,300.2 h-1.0 M47.4,293.96 h-1.0 M47.4,289.54 h-1.0 M47.4,286.1 h-1.0 M47.4,283.3 h-1.0 M47.4,280.93 h-1.0 M47.4,278.87 h-1.0 M47.4,277.06 h-1.0 M47.4,275.44 h-1.6 M47.4,264.78 h-1.0 M47.4,258.54 h-1.0 M47.4,254.12 h-1.0 M47.4,250.68 h-1.0 M47.4,247.88 h-1.0 M47.4,245.51 h-1.0 M47.4,243.45 h-1.0 M47.4,241.64 h-1.0 M47.4,240.02 h-1.6 M47.4,229.36 h-1.0 M47.4,223.12 h-1.0 M47.4,218.7 h-1.0 M47.4,215.26 h-1.0 M47.4,212.46 h-1.0 M47.4,210.09 h-1.0 M47.4,208.03 h-1.0 M47.4,206.22 h-1.0 M47.4,204.6 h-1.6" stroke="#555" stroke-width="0.6" fill="none"/>
<text x="47.7" y="361.8" text-anchor="middle" font-size="9.2"><tspan class="h1">1</tspan>0<tspan font-size="6.3" dy="-3.9" style="stroke-width:0.08px">−4</tspan></text>
<text x="93.94" y="361.8" text-anchor="middle" font-size="9.2"><tspan class="h1">1</tspan>0<tspan font-size="6.3" dy="-3.9" style="stroke-width:0.08px">−3</tspan></text>
<text x="140.18" y="361.8" text-anchor="middle" font-size="9.2"><tspan class="h1">1</tspan>0<tspan font-size="6.3" dy="-3.9" style="stroke-width:0.08px">−2</tspan></text>
<text x="186.42" y="361.8" text-anchor="middle" font-size="9.2"><tspan class="h1">1</tspan>0<tspan font-size="6.3" dy="-3.9" style="stroke-width:0.08px">−<tspan class="h1">1</tspan></tspan></text>
<text x="232.66" y="361.8" text-anchor="middle" font-size="9.2"><tspan class="h1">1</tspan>0<tspan font-size="6.3" dy="-3.9" style="stroke-width:0.08px">0</tspan></text>
<text x="278.9" y="361.8" text-anchor="middle" font-size="9.2"><tspan class="h1">1</tspan>0<tspan font-size="6.3" dy="-3.9" style="stroke-width:0.08px"><tspan class="h1">1</tspan></tspan></text>
<text x="41" y="349.98" text-anchor="end" font-size="9.2"><tspan class="h1">1</tspan>0<tspan font-size="6.3" dy="-3.9" style="stroke-width:0.08px">−<tspan class="h1">1</tspan>0</tspan></text>
<text x="41" y="314.56" text-anchor="end" font-size="9.2"><tspan class="h1">1</tspan>0<tspan font-size="6.3" dy="-3.9" style="stroke-width:0.08px">−9</tspan></text>
<text x="41" y="279.14" text-anchor="end" font-size="9.2"><tspan class="h1">1</tspan>0<tspan font-size="6.3" dy="-3.9" style="stroke-width:0.08px">−8</tspan></text>
<text x="41" y="243.72" text-anchor="end" font-size="9.2"><tspan class="h1">1</tspan>0<tspan font-size="6.3" dy="-3.9" style="stroke-width:0.08px">−7</tspan></text>
<text x="41" y="208.3" text-anchor="end" font-size="9.2"><tspan class="h1">1</tspan>0<tspan font-size="6.3" dy="-3.9" style="stroke-width:0.08px">−6</tspan></text>
<line x1="149" y1="204.6" x2="149" y2="346.3" stroke="#222" stroke-width="1" stroke-dasharray="2.2,1"/>
<line x1="163.4" y1="204.6" x2="163.4" y2="346.3" stroke="#d42020" stroke-width="0.8" stroke-dasharray="2,1.4"/>
<line x1="188.5" y1="204.6" x2="188.5" y2="346.3" stroke="#2525c8" stroke-width="0.8" stroke-dasharray="2,1.4"/>
<path d="M47.4,344.4 L49.99,343.45 L53.43,342.18 L57.52,340.67 L62.08,338.99 L66.89,337.22 L71.78,335.41 L76.55,333.65 L81,332 L85.27,330.4 L89.61,328.77 L93.98,327.12 L98.35,325.47 L102.67,323.84 L106.91,322.26 L111.03,320.74 L115,319.3 L118.9,317.91 L122.8,316.54 L126.64,315.2 L130.38,313.93 L133.94,312.72 L137.27,311.62 L140.31,310.64 L143,309.8 L145.29,309.13 L147.2,308.63 L148.82,308.25 L150.21,307.98 L151.44,307.76 L152.61,307.56 L153.77,307.35 L155,307.1 L156.24,306.82 L157.37,306.55 L158.44,306.29 L159.47,306.05 L160.48,305.82 L161.5,305.6 L162.57,305.39 L163.7,305.2 L164.9,305.01 L166.13,304.83 L167.38,304.66 L168.66,304.51 L169.95,304.37 L171.24,304.25 L172.53,304.16 L173.8,304.1 L175.08,304.07 L176.39,304.07 L177.71,304.1 L179.03,304.14 L180.32,304.21 L181.57,304.29 L182.77,304.39 L183.9,304.5 L184.9,304.61 L185.76,304.71 L186.53,304.82 L187.28,304.95 L188.07,305.11 L188.94,305.32 L189.97,305.57 L191.2,305.9 L192.63,306.3 L194.18,306.75 L195.86,307.26 L197.64,307.82 L199.52,308.41 L201.48,309.02 L203.51,309.66 L205.6,310.3 L207.75,310.94 L209.97,311.6 L212.26,312.27 L214.64,312.96 L217.1,313.69 L219.64,314.47 L222.27,315.3 L225,316.2 L227.83,317.17 L230.77,318.21 L233.81,319.31 L236.93,320.46 L240.12,321.63 L243.37,322.82 L246.66,324.02 L250,325.2 L253.6,326.45 L257.57,327.82 L261.72,329.25 L265.86,330.66 L269.81,332.01 L273.38,333.22 L276.37,334.24 L278.6,335" fill="none" stroke="#b52222" stroke-width="1.2" stroke-linejoin="round"/>
<path d="M104.3,283.7 L105.05,283.93 L106.06,284.23 L107.27,284.58 L108.6,284.98 L109.99,285.4 L111.36,285.82 L112.66,286.23 L113.8,286.6 L114.81,286.95 L115.77,287.29 L116.68,287.63 L117.56,287.96 L118.42,288.3 L119.27,288.63 L120.13,288.96 L121,289.3 L121.85,289.63 L122.65,289.95 L123.43,290.27 L124.21,290.59 L125.03,290.92 L125.92,291.26 L126.9,291.62 L128,292 L129.27,292.42 L130.69,292.87 L132.21,293.35 L133.8,293.83 L135.4,294.31 L136.96,294.78 L138.45,295.21 L139.8,295.6 L141.04,295.95 L142.22,296.26 L143.35,296.56 L144.43,296.83 L145.46,297.09 L146.47,297.33 L147.44,297.57 L148.4,297.8 L149.33,298.02 L150.23,298.23 L151.09,298.42 L151.92,298.61 L152.73,298.78 L153.51,298.96 L154.27,299.13 L155,299.3 L155.64,299.46 L156.16,299.59 L156.61,299.71 L157.05,299.84 L157.55,299.97 L158.17,300.14 L158.96,300.34 L160,300.6 L161.28,300.91 L162.75,301.26 L164.37,301.64 L166.12,302.06 L167.97,302.49 L169.89,302.95 L171.84,303.42 L173.8,303.9 L175.82,304.39 L177.97,304.91 L180.19,305.45 L182.46,306 L184.74,306.57 L186.98,307.14 L189.14,307.72 L191.2,308.3 L193.11,308.87 L194.89,309.44 L196.6,310 L198.27,310.57 L199.97,311.17 L201.72,311.8 L203.58,312.47 L205.6,313.2 L207.75,313.97 L209.97,314.77 L212.26,315.61 L214.64,316.49 L217.1,317.4 L219.64,318.36 L222.27,319.36 L225,320.4 L227.83,321.51 L230.77,322.68 L233.81,323.91 L236.93,325.17 L240.12,326.45 L243.37,327.75 L246.66,329.03 L250,330.3 L253.6,331.62 L257.57,333.05 L261.72,334.52 L265.86,335.97 L269.81,337.34 L273.38,338.58 L276.37,339.62 L278.6,340.4" fill="none" stroke="#2020aa" stroke-width="1.2" stroke-linejoin="round"/>
<path d="M47.4,341.2 L47.66,340.94 L47.99,340.61 L48.39,340.21 L48.83,339.77 L49.32,339.29 L49.85,338.79 L50.42,338.29 L51,337.8 L51.63,337.3 L52.32,336.76 L53.06,336.21 L53.82,335.64 L54.61,335.08 L55.39,334.53 L56.16,334 L56.9,333.5 L57.61,333.03 L58.31,332.59 L59,332.16 L59.68,331.74 L60.37,331.34 L61.06,330.95 L61.77,330.57 L62.5,330.2 L63.25,329.84 L64.02,329.49 L64.8,329.15 L65.59,328.82 L66.38,328.5 L67.16,328.19 L67.94,327.89 L68.7,327.6 L69.44,327.32 L70.17,327.05 L70.89,326.79 L71.61,326.54 L72.32,326.29 L73.04,326.06 L73.76,325.83 L74.5,325.6 L75.25,325.38 L76.02,325.16 L76.8,324.95 L77.57,324.74 L78.35,324.55 L79.12,324.36 L79.87,324.17 L80.6,324 L81.32,323.84 L82.03,323.68 L82.74,323.54 L83.43,323.4 L84.11,323.27 L84.76,323.14 L85.4,323.02 L86,322.9 L86.57,322.79 L87.1,322.69 L87.6,322.6 L88.09,322.51 L88.56,322.42 L89.03,322.32 L89.51,322.22 L90,322.1 L90.5,321.97 L90.99,321.85 L91.48,321.71 L91.97,321.58 L92.46,321.43 L92.96,321.27 L93.48,321.09 L94,320.9 L94.53,320.7 L95.06,320.48 L95.59,320.26 L96.14,320.02 L96.7,319.77 L97.27,319.5 L97.87,319.21 L98.5,318.9 L99.16,318.56 L99.86,318.2 L100.58,317.81 L101.32,317.41 L102.08,316.99 L102.83,316.56 L103.57,316.13 L104.3,315.7 L105.01,315.26 L105.72,314.8 L106.43,314.34 L107.13,313.86 L107.84,313.39 L108.55,312.92 L109.27,312.45 L110,312 L110.74,311.55 L111.5,311.11 L112.27,310.66 L113.04,310.23 L113.81,309.8 L114.58,309.38 L115.34,308.98 L116.1,308.6 L116.85,308.24 L117.59,307.9 L118.32,307.58 L119.06,307.27 L119.79,306.98 L120.52,306.68 L121.26,306.39 L122,306.1 L122.75,305.81 L123.5,305.53 L124.25,305.26 L125.01,304.99 L125.76,304.73 L126.51,304.46 L127.26,304.18 L128,303.9 L128.73,303.61 L129.46,303.32 L130.18,303.02 L130.9,302.72 L131.62,302.42 L132.34,302.11 L133.07,301.81 L133.8,301.5 L134.52,301.2 L135.23,300.92 L135.92,300.64 L136.62,300.36 L137.35,300.06 L138.11,299.74 L138.92,299.39 L139.8,299 L140.76,298.55 L141.81,298.05 L142.92,297.52 L144.06,296.96 L145.21,296.41 L146.33,295.86 L147.4,295.36 L148.4,294.9 L149.33,294.49 L150.23,294.11 L151.09,293.75 L151.92,293.41 L152.73,293.09 L153.51,292.78 L154.27,292.48 L155,292.2 L155.69,291.93 L156.32,291.68 L156.9,291.45 L157.47,291.22 L158.05,291.01 L158.65,290.81 L159.29,290.6 L160,290.4 L160.78,290.2 L161.6,290 L162.47,289.82 L163.36,289.63 L164.27,289.45 L165.18,289.27 L166.1,289.09 L167,288.9 L167.9,288.71 L168.82,288.53 L169.74,288.35 L170.67,288.17 L171.59,287.98 L172.51,287.8 L173.41,287.6 L174.3,287.4 L175.16,287.19 L176.01,286.97 L176.84,286.75 L177.67,286.52 L178.49,286.29 L179.32,286.06 L180.15,285.83 L181,285.6 L181.83,285.38 L182.61,285.16 L183.38,284.94 L184.17,284.73 L185,284.5 L185.89,284.28 L186.88,284.04 L188,283.8 L189.26,283.54 L190.65,283.27 L192.13,283 L193.69,282.71 L195.28,282.43 L196.88,282.15 L198.47,281.87 L200,281.6 L201.58,281.33 L203.28,281.04 L205.03,280.75 L206.75,280.46 L208.38,280.19 L209.84,279.95 L211.07,279.75 L212,279.6" fill="none" stroke="#7620bc" stroke-width="1.2" stroke-linejoin="round"/>
<path d="M47.4,270.6 L47.83,270.6 L48.39,270.6 L49.06,270.59 L49.81,270.59 L50.61,270.59 L51.43,270.59 L52.23,270.59 L53,270.6 L53.76,270.61 L54.54,270.62 L55.34,270.63 L56.15,270.65 L56.95,270.67 L57.73,270.7 L58.49,270.74 L59.2,270.8 L59.87,270.87 L60.5,270.94 L61.11,271.03 L61.69,271.12 L62.27,271.23 L62.84,271.34 L63.41,271.47 L64,271.6 L64.58,271.74 L65.16,271.9 L65.72,272.06 L66.29,272.24 L66.86,272.42 L67.45,272.61 L68.06,272.8 L68.7,273 L69.37,273.21 L70.07,273.42 L70.78,273.65 L71.51,273.88 L72.25,274.11 L73,274.34 L73.75,274.57 L74.5,274.8 L75.25,275.03 L76.01,275.25 L76.77,275.48 L77.54,275.7 L78.31,275.93 L79.08,276.15 L79.85,276.38 L80.6,276.6 L81.35,276.83 L82.09,277.05 L82.83,277.28 L83.56,277.5 L84.3,277.73 L85.03,277.95 L85.76,278.18 L86.5,278.4 L87.24,278.62 L87.97,278.85 L88.71,279.07 L89.45,279.3 L90.19,279.52 L90.92,279.75 L91.66,279.97 L92.4,280.2 L93.14,280.43 L93.87,280.65 L94.61,280.88 L95.34,281.11 L96.08,281.33 L96.82,281.56 L97.56,281.78 L98.3,282 L99.05,282.22 L99.8,282.43 L100.55,282.64 L101.3,282.85 L102.05,283.06 L102.8,283.27 L103.55,283.48 L104.3,283.7 L105.04,283.92 L105.78,284.14 L106.52,284.37 L107.26,284.59 L107.99,284.82 L108.73,285.05 L109.46,285.27 L110.2,285.5 L110.94,285.73 L111.67,285.96 L112.41,286.2 L113.15,286.43 L113.89,286.66 L114.63,286.89 L115.36,287.1 L116.1,287.3 L116.84,287.49 L117.57,287.67 L118.31,287.84 L119.04,288 L119.78,288.16 L120.52,288.31 L121.26,288.46 L122,288.6 L122.75,288.74 L123.5,288.88 L124.25,289.02 L125,289.15 L125.75,289.27 L126.5,289.39 L127.25,289.5 L128,289.6 L128.74,289.69 L129.48,289.77 L130.22,289.84 L130.96,289.9 L131.69,289.96 L132.43,290.01 L133.16,290.06 L133.9,290.1 L134.64,290.14 L135.39,290.18 L136.14,290.21 L136.89,290.23 L137.64,290.25 L138.37,290.27 L139.1,290.29 L139.8,290.3 L140.49,290.31 L141.17,290.32 L141.84,290.33 L142.5,290.33 L143.15,290.33 L143.78,290.33 L144.4,290.32 L145,290.3 L145.57,290.28 L146.11,290.26 L146.62,290.23 L147.12,290.2 L147.62,290.16 L148.15,290.12 L148.7,290.06 L149.3,290 L149.95,289.93 L150.64,289.84 L151.37,289.75 L152.11,289.65 L152.85,289.54 L153.59,289.43 L154.31,289.32 L155,289.2 L155.64,289.08 L156.25,288.95 L156.84,288.82 L157.42,288.68 L158.01,288.54 L158.63,288.4 L159.28,288.25 L160,288.1 L160.78,287.95 L161.6,287.79 L162.47,287.62 L163.36,287.46 L164.27,287.29 L165.18,287.12 L166.1,286.96 L167,286.8 L167.9,286.65 L168.82,286.49 L169.74,286.34 L170.67,286.19 L171.59,286.05 L172.51,285.9 L173.41,285.75 L174.3,285.6 L175.16,285.45 L176,285.3 L176.82,285.15 L177.64,285 L178.46,284.85 L179.28,284.7 L180.13,284.55 L181,284.4 L181.89,284.25 L182.8,284.1 L183.71,283.95 L184.64,283.81 L185.58,283.66 L186.54,283.51 L187.51,283.35 L188.5,283.2 L189.51,283.04 L190.54,282.88 L191.59,282.72 L192.66,282.56 L193.73,282.39 L194.82,282.23 L195.91,282.06 L197,281.9 L198.11,281.74 L199.23,281.58 L200.37,281.42 L201.51,281.26 L202.65,281.09 L203.79,280.93 L204.91,280.77 L206,280.6 L207.08,280.43 L208.14,280.25 L209.19,280.06 L210.23,279.88 L211.26,279.7 L212.28,279.52 L213.3,279.36 L214.3,279.2 L215.29,279.06 L216.26,278.93 L217.22,278.81 L218.17,278.7 L219.12,278.59 L220.07,278.47 L221.03,278.34 L222,278.2 L222.97,278.05 L223.91,277.91 L224.85,277.77 L225.81,277.61 L226.78,277.45 L227.8,277.26 L228.86,277.04 L230,276.8 L231.24,276.52 L232.58,276.21 L233.98,275.87 L235.42,275.51 L236.85,275.13 L238.25,274.75 L239.58,274.37 L240.8,274 L241.91,273.63 L242.93,273.27 L243.9,272.9 L244.82,272.52 L245.72,272.14 L246.62,271.75 L247.54,271.33 L248.5,270.9 L249.49,270.45 L250.5,269.98 L251.52,269.49 L252.54,268.99 L253.56,268.48 L254.58,267.96 L255.59,267.43 L256.6,266.9 L257.6,266.36 L258.59,265.82 L259.58,265.27 L260.56,264.71 L261.55,264.15 L262.53,263.57 L263.51,262.99 L264.5,262.4 L265.5,261.79 L266.51,261.14 L267.54,260.47 L268.56,259.81 L269.56,259.15 L270.54,258.52 L271.49,257.93 L272.4,257.4 L273.3,256.91 L274.21,256.44 L275.12,256 L275.99,255.59 L276.8,255.22 L277.53,254.89 L278.13,254.62 L278.6,254.4" fill="none" stroke="#111" stroke-width="1.2" stroke-linejoin="round"/>
<path d="M47.4,272.3 L47.83,272.3 L48.39,272.3 L49.06,272.3 L49.81,272.29 L50.61,272.29 L51.43,272.29 L52.23,272.3 L53,272.3 L53.76,272.3 L54.54,272.3 L55.34,272.3 L56.15,272.31 L56.95,272.31 L57.73,272.33 L58.49,272.36 L59.2,272.4 L59.87,272.46 L60.5,272.52 L61.11,272.6 L61.69,272.69 L62.27,272.78 L62.84,272.88 L63.41,272.99 L64,273.1 L64.58,273.21 L65.16,273.33 L65.72,273.45 L66.29,273.58 L66.86,273.72 L67.45,273.87 L68.06,274.03 L68.7,274.2 L69.37,274.39 L70.07,274.6 L70.78,274.82 L71.51,275.06 L72.25,275.29 L73,275.53 L73.75,275.77 L74.5,276 L75.25,276.23 L76.01,276.45 L76.77,276.68 L77.54,276.9 L78.31,277.12 L79.08,277.35 L79.85,277.57 L80.6,277.8 L81.35,278.03 L82.09,278.25 L82.83,278.48 L83.56,278.71 L84.3,278.93 L85.03,279.16 L85.76,279.38 L86.5,279.6 L87.24,279.82 L87.97,280.03 L88.71,280.25 L89.45,280.46 L90.19,280.67 L90.92,280.88 L91.66,281.09 L92.4,281.3 L93.14,281.51 L93.87,281.71 L94.61,281.91 L95.34,282.11 L96.08,282.31 L96.82,282.51 L97.56,282.71 L98.3,282.9 L99.05,283.09 L99.8,283.28 L100.55,283.47 L101.3,283.65 L102.05,283.83 L102.8,284.02 L103.55,284.21 L104.3,284.4 L105.04,284.59 L105.78,284.79 L106.52,284.99 L107.26,285.19 L107.99,285.39 L108.73,285.59 L109.46,285.79 L110.2,286 L110.94,286.21 L111.67,286.43 L112.41,286.65 L113.15,286.87 L113.89,287.09 L114.63,287.3 L115.36,287.51 L116.1,287.7 L116.84,287.88 L117.57,288.06 L118.31,288.23 L119.04,288.39 L119.78,288.54 L120.52,288.7 L121.26,288.85 L122,289 L122.75,289.15 L123.5,289.3 L124.25,289.45 L125,289.6 L125.75,289.74 L126.5,289.87 L127.25,289.99 L128,290.1 L128.74,290.19 L129.48,290.27 L130.22,290.34 L130.96,290.41 L131.69,290.46 L132.43,290.51 L133.16,290.56 L133.9,290.6 L134.64,290.64 L135.39,290.68 L136.14,290.71 L136.89,290.74 L137.64,290.76 L138.37,290.78 L139.1,290.79 L139.8,290.8 L140.49,290.8 L141.17,290.8 L141.84,290.8 L142.5,290.79 L143.15,290.77 L143.78,290.75 L144.4,290.73 L145,290.7 L145.57,290.67 L146.11,290.64 L146.62,290.6 L147.12,290.56 L147.62,290.51 L148.15,290.45 L148.7,290.38 L149.3,290.3 L149.95,290.2 L150.64,290.09 L151.37,289.97 L152.11,289.84 L152.85,289.71 L153.59,289.57 L154.31,289.43 L155,289.3 L155.64,289.17 L156.25,289.04 L156.84,288.9 L157.42,288.77 L158.01,288.63 L158.63,288.49 L159.28,288.35 L160,288.2 L160.78,288.05 L161.6,287.89 L162.47,287.72 L163.36,287.56 L164.27,287.39 L165.18,287.22 L166.1,287.06 L167,286.9 L167.9,286.75 L168.82,286.59 L169.74,286.44 L170.67,286.29 L171.59,286.15 L172.51,286 L173.41,285.85 L174.3,285.7 L175.16,285.55 L176,285.4 L176.82,285.25 L177.64,285.1 L178.46,284.95 L179.28,284.8 L180.13,284.65 L181,284.5 L181.89,284.35 L182.8,284.2 L183.71,284.05 L184.64,283.91 L185.58,283.76 L186.54,283.61 L187.51,283.45 L188.5,283.3 L189.51,283.14 L190.54,282.98 L191.59,282.82 L192.66,282.66 L193.73,282.5 L194.82,282.33 L195.91,282.17 L197,282 L198.13,281.83 L199.31,281.65 L200.51,281.47 L201.72,281.29 L202.9,281.11 L204.02,280.93 L205.06,280.76 L206,280.6 L206.82,280.45 L207.53,280.32 L208.17,280.2 L208.75,280.08 L209.3,279.96 L209.84,279.82 L210.4,279.67 L211,279.5 L211.61,279.31 L212.21,279.11 L212.8,278.9 L213.4,278.68 L214.01,278.44 L214.64,278.19 L215.3,277.91 L216,277.6 L216.74,277.27 L217.52,276.92 L218.32,276.56 L219.15,276.17 L220,275.76 L220.86,275.33 L221.73,274.88 L222.6,274.4 L223.46,273.91 L224.31,273.41 L225.17,272.89 L226.04,272.35 L226.94,271.78 L227.89,271.17 L228.91,270.51 L230,269.8 L231.21,269.02 L232.53,268.15 L233.94,267.24 L235.38,266.29 L236.83,265.33 L238.24,264.38 L239.58,263.46 L240.8,262.6 L241.91,261.79 L242.93,261.02 L243.9,260.26 L244.82,259.53 L245.72,258.8 L246.62,258.07 L247.54,257.34 L248.5,256.6 L249.49,255.85 L250.5,255.09 L251.52,254.33 L252.54,253.58 L253.56,252.82 L254.58,252.07 L255.59,251.33 L256.6,250.6 L257.6,249.87 L258.59,249.15 L259.58,248.43 L260.56,247.71 L261.55,247.01 L262.53,246.32 L263.51,245.65 L264.5,245 L265.5,244.36 L266.51,243.73 L267.54,243.11 L268.56,242.51 L269.56,241.93 L270.54,241.39 L271.49,240.87 L272.4,240.4 L273.3,239.96 L274.21,239.55 L275.12,239.16 L275.99,238.81 L276.8,238.5 L277.53,238.22 L278.13,237.99 L278.6,237.8" fill="none" stroke="#23822a" stroke-width="1.2" stroke-linejoin="round"/>
<line x1="282.4" y1="220.9" x2="291" y2="220.9" stroke="#3a3a3a" stroke-width="1" stroke-dasharray="1.8,1.1"/>
<line x1="282.4" y1="236.5" x2="291" y2="236.5" stroke="#d42020" stroke-width="0.9" stroke-dasharray="1.8,1.2"/>
<line x1="282.4" y1="252.4" x2="291" y2="252.4" stroke="#2525c8" stroke-width="0.9" stroke-dasharray="1.8,1.2"/>
<line x1="282.4" y1="268.2" x2="291" y2="268.2" stroke="#b52222" stroke-width="1.15"/>
<line x1="282.4" y1="285.1" x2="291" y2="285.1" stroke="#2020aa" stroke-width="1.15"/>
<line x1="282.4" y1="302.6" x2="291" y2="302.6" stroke="#7620bc" stroke-width="1.15"/>
<line x1="282.4" y1="319.2" x2="291" y2="319.2" stroke="#111" stroke-width="1.15"/>
<line x1="282.4" y1="336.3" x2="291" y2="336.3" stroke="#23822a" stroke-width="1.15"/>
<text x="296" y="223.5" font-size="9" font-style="italic">τ<tspan font-size="6.6" dx="1.1" dy="3.5">PLL</tspan></text>
<text x="296" y="239.1" font-size="9" font-style="italic">τ<tspan font-size="6.6" dx="1.1" dy="3.5">th</tspan></text>
<text x="296" y="255.0" font-size="9" font-style="italic">τ<tspan font-size="6.6" dx="1.1" dy="3.5">mech</tspan></text>
<text x="296.5" y="271.09999999999997" font-size="8.8" font-style="italic">S<tspan font-size="6" dy="3.4">y</tspan><tspan font-size="4.2" dy="1.4">th</tspan><tspan dy="-4.8" font-style="normal"> (</tspan>ω<tspan font-style="normal">)</tspan></text>
<text x="296.5" y="288.0" font-size="8.8" font-style="italic">S<tspan font-size="6" dy="3.4">y</tspan><tspan font-size="4.2" dy="1.4">φ</tspan><tspan dy="-4.8" font-style="normal"> (</tspan>ω<tspan font-style="normal">)</tspan></text>
<text x="296.5" y="305.5" font-size="8.8" font-style="italic">S<tspan font-size="6" dy="3.4">y</tspan><tspan font-size="4.2" dy="1.4">ΔT</tspan><tspan dy="-4.8" font-style="normal"> (</tspan>ω<tspan font-style="normal">)</tspan></text>
<text x="296.5" y="322.09999999999997" font-size="8.8" font-style="italic">S<tspan font-size="6" dy="3.4">y</tspan><tspan dy="-3.4" font-style="normal">(</tspan>ω<tspan font-style="normal">)</tspan></text>
<text x="296.2" y="340.40000000000003" font-size="9">Data</text>
<text x="168.4" y="376.8" font-size="9.8" text-anchor="middle"><tspan font-style="italic">τ</tspan> (s)</text>
<text transform="translate(8.5,276.2) rotate(-90)" font-size="9.2" text-anchor="middle"><tspan font-style="italic">σ</tspan><tspan font-size="6" dy="1.8" font-style="italic">y</tspan><tspan dy="-1.8">(</tspan><tspan font-style="italic">τ</tspan>)</text>
<rect x="394.3" y="204.5" width="286.9" height="141.8" fill="none" stroke="#6a6a6a" stroke-width="0.8"/>
<path d="M394.3,346.3 v1.6 M417.66,346.3 v1.0 M431.32,346.3 v1.0 M441.02,346.3 v1.0 M448.54,346.3 v1.0 M454.68,346.3 v1.0 M459.88,346.3 v1.0 M464.38,346.3 v1.0 M468.35,346.3 v1.0 M471.9,346.3 v1.6 M495.26,346.3 v1.0 M508.92,346.3 v1.0 M518.62,346.3 v1.0 M526.14,346.3 v1.0 M532.28,346.3 v1.0 M537.48,346.3 v1.0 M541.98,346.3 v1.0 M545.95,346.3 v1.0 M549.5,346.3 v1.6 M572.86,346.3 v1.0 M586.52,346.3 v1.0 M596.22,346.3 v1.0 M603.74,346.3 v1.0 M609.88,346.3 v1.0 M615.08,346.3 v1.0 M619.58,346.3 v1.0 M623.55,346.3 v1.0 M627.1,346.3 v1.6 M650.46,346.3 v1.0 M664.12,346.3 v1.0 M673.82,346.3 v1.0 M394.3,346.3 h-1.6 M394.3,335.63 h-1.0 M394.3,329.39 h-1.0 M394.3,324.96 h-1.0 M394.3,321.52 h-1.0 M394.3,318.71 h-1.0 M394.3,316.34 h-1.0 M394.3,314.29 h-1.0 M394.3,312.47 h-1.0 M394.3,310.85 h-1.6 M394.3,300.18 h-1.0 M394.3,293.94 h-1.0 M394.3,289.51 h-1.0 M394.3,286.07 h-1.0 M394.3,283.26 h-1.0 M394.3,280.89 h-1.0 M394.3,278.84 h-1.0 M394.3,277.02 h-1.0 M394.3,275.4 h-1.6 M394.3,264.73 h-1.0 M394.3,258.49 h-1.0 M394.3,254.06 h-1.0 M394.3,250.62 h-1.0 M394.3,247.81 h-1.0 M394.3,245.44 h-1.0 M394.3,243.39 h-1.0 M394.3,241.57 h-1.0 M394.3,239.95 h-1.6 M394.3,229.28 h-1.0 M394.3,223.04 h-1.0 M394.3,218.61 h-1.0 M394.3,215.17 h-1.0 M394.3,212.36 h-1.0 M394.3,209.99 h-1.0 M394.3,207.94 h-1.0 M394.3,206.12 h-1.0 M394.3,204.5 h-1.6" stroke="#555" stroke-width="0.6" fill="none"/>
<text x="394.6" y="361.7" text-anchor="middle" font-size="9.2"><tspan class="h1">1</tspan>0<tspan font-size="6.3" dy="-3.9" style="stroke-width:0.08px"><tspan class="h1">1</tspan></tspan></text>
<text x="472.2" y="361.7" text-anchor="middle" font-size="9.2"><tspan class="h1">1</tspan>0<tspan font-size="6.3" dy="-3.9" style="stroke-width:0.08px">2</tspan></text>
<text x="549.8" y="361.7" text-anchor="middle" font-size="9.2"><tspan class="h1">1</tspan>0<tspan font-size="6.3" dy="-3.9" style="stroke-width:0.08px">3</tspan></text>
<text x="627.4" y="361.7" text-anchor="middle" font-size="9.2"><tspan class="h1">1</tspan>0<tspan font-size="6.3" dy="-3.9" style="stroke-width:0.08px">4</tspan></text>
<text x="388.1" y="350" text-anchor="end" font-size="9.2"><tspan class="h1">1</tspan>0<tspan font-size="6.3" dy="-3.9" style="stroke-width:0.08px">−2</tspan></text>
<text x="388.1" y="314.55" text-anchor="end" font-size="9.2"><tspan class="h1">1</tspan>0<tspan font-size="6.3" dy="-3.9" style="stroke-width:0.08px">−<tspan class="h1">1</tspan></tspan></text>
<text x="388.1" y="279.1" text-anchor="end" font-size="9.2"><tspan class="h1">1</tspan>0<tspan font-size="6.3" dy="-3.9" style="stroke-width:0.08px">0</tspan></text>
<text x="388.1" y="243.65" text-anchor="end" font-size="9.2"><tspan class="h1">1</tspan>0<tspan font-size="6.3" dy="-3.9" style="stroke-width:0.08px"><tspan class="h1">1</tspan></tspan></text>
<text x="388.1" y="208.2" text-anchor="end" font-size="9.2"><tspan class="h1">1</tspan>0<tspan font-size="6.3" dy="-3.9" style="stroke-width:0.08px">2</tspan></text>
<path d="M394.3,259.71 L395.26,259.71 L396.21,259.71 L397.17,259.71 L398.13,259.71 L399.08,259.71 L400.04,259.71 L400.99,259.71 L401.95,259.71 L402.91,259.71 L403.86,259.71 L404.82,259.71 L405.78,259.71 L406.73,259.71 L407.69,259.71 L408.64,259.71 L409.6,259.71 L410.56,259.71 L411.51,259.71 L412.47,259.71 L413.43,259.71 L414.38,259.71 L415.34,259.71 L416.29,259.71 L417.25,259.71 L418.21,259.71 L419.16,259.71 L420.12,259.71 L421.08,259.71 L422.03,259.71 L422.99,259.71 L423.95,259.71 L424.9,259.71 L425.86,259.71 L426.81,259.71 L427.77,259.71 L428.73,259.71 L429.68,259.71 L430.64,259.71 L431.6,259.71 L432.55,259.71 L433.51,259.71 L434.46,259.71 L435.42,259.71 L436.38,259.71 L437.33,259.71 L438.29,259.71 L439.25,259.71 L440.2,259.71 L441.16,259.71 L442.11,259.71 L443.07,259.71 L444.03,259.71 L444.98,259.71 L445.94,259.71 L446.9,259.71 L447.85,259.71 L448.81,259.71 L449.76,259.71 L450.72,259.71 L451.68,259.71 L452.63,259.71 L453.59,259.71 L454.55,259.71 L455.5,259.71 L456.46,259.71 L457.42,259.71 L458.37,259.71 L459.33,259.71 L460.28,259.71 L461.24,259.71 L462.2,259.71 L463.15,259.7 L464.11,259.7 L465.07,259.7 L466.02,259.7 L466.98,259.7 L467.93,259.7 L468.89,259.7 L469.85,259.7 L470.8,259.7 L471.76,259.7 L472.72,259.7 L473.67,259.7 L474.63,259.7 L475.58,259.69 L476.54,259.69 L477.5,259.69 L478.45,259.69 L479.41,259.69 L480.37,259.69 L481.32,259.69 L482.28,259.68 L483.24,259.68 L484.19,259.68 L485.15,259.68 L486.1,259.68 L487.06,259.68 L488.02,259.67 L488.97,259.67 L489.93,259.67 L490.89,259.67 L491.84,259.66 L492.8,259.66 L493.75,259.66 L494.71,259.65 L495.67,259.65 L496.62,259.65 L497.58,259.64 L498.54,259.64 L499.49,259.63 L500.45,259.63 L501.4,259.62 L502.36,259.62 L503.32,259.61 L504.27,259.61 L505.23,259.6 L506.19,259.59 L507.14,259.59 L508.1,259.58 L509.05,259.57 L510.01,259.56 L510.97,259.56 L511.92,259.55 L512.88,259.54 L513.84,259.53 L514.79,259.52 L515.75,259.51 L516.71,259.49 L517.66,259.48 L518.62,259.47 L519.57,259.45 L520.53,259.44 L521.49,259.42 L522.44,259.41 L523.4,259.39 L524.36,259.37 L525.31,259.35 L526.27,259.33 L527.22,259.31 L528.18,259.29 L529.14,259.26 L530.09,259.24 L531.05,259.21 L532.01,259.18 L532.96,259.15 L533.92,259.12 L534.87,259.09 L535.83,259.05 L536.79,259.02 L537.74,258.98 L538.7,258.94 L539.66,258.89 L540.61,258.85 L541.57,258.8 L542.53,258.75 L543.48,258.7 L544.44,258.64 L545.39,258.59 L546.35,258.53 L547.31,258.46 L548.26,258.4 L549.22,258.33 L550.18,258.25 L551.13,258.18 L552.09,258.1 L553.04,258.01 L554,257.92 L554.96,257.83 L555.91,257.73 L556.87,257.63 L557.83,257.53 L558.78,257.42 L559.74,257.31 L560.69,257.19 L561.65,257.06 L562.61,256.93 L563.56,256.8 L564.52,256.66 L565.48,256.51 L566.43,256.36 L567.39,256.21 L568.34,256.05 L569.3,255.88 L570.26,255.71 L571.21,255.53 L572.17,255.34 L573.13,255.15 L574.08,254.95 L575.04,254.75 L576,254.54 L576.95,254.33 L577.91,254.1 L578.86,253.88 L579.82,253.64 L580.78,253.4 L581.73,253.16 L582.69,252.91 L583.65,252.65 L584.6,252.38 L585.56,252.11 L586.51,251.84 L587.47,251.56 L588.43,251.27 L589.38,250.98 L590.34,250.68 L591.3,250.38 L592.25,250.07 L593.21,249.76 L594.16,249.44 L595.12,249.12 L596.08,248.8 L597.03,248.46 L597.99,248.13 L598.95,247.79 L599.9,247.45 L600.86,247.1 L601.82,246.75 L602.77,246.39 L603.73,246.03 L604.68,245.67 L605.64,245.3 L606.6,244.94 L607.55,244.56 L608.51,244.19 L609.47,243.81 L610.42,243.43 L611.38,243.05 L612.33,242.66 L613.29,242.27 L614.25,241.88 L615.2,241.49 L616.16,241.1 L617.12,240.7 L618.07,240.3 L619.03,239.9 L619.98,239.5 L620.94,239.1 L621.9,238.69 L622.85,238.29 L623.81,237.88 L624.77,237.47 L625.72,237.06 L626.68,236.65 L627.63,236.24 L628.59,235.82 L629.55,235.41 L630.5,234.99 L631.46,234.57 L632.42,234.16 L633.37,233.74 L634.33,233.32 L635.29,232.9 L636.24,232.48 L637.2,232.05 L638.15,231.63 L639.11,231.21 L640.07,230.79 L641.02,230.36 L641.98,229.94 L642.94,229.51 L643.89,229.09 L644.85,228.66 L645.8,228.23 L646.76,227.81 L647.72,227.38 L648.67,226.95 L649.63,226.52 L650.59,226.09 L651.54,225.67 L652.5,225.24 L653.45,224.81 L654.41,224.38 L655.37,223.95 L656.32,223.52 L657.28,223.09 L658.24,222.66 L659.19,222.23 L660.15,221.8 L661.11,221.37 L662.06,220.94 L663.02,220.5 L663.97,220.07 L664.93,219.64 L665.89,219.21 L666.84,218.78 L667.8,218.35 L668.76,217.91 L669.71,217.48 L670.67,217.05 L671.62,216.62 L672.58,216.18 L673.54,215.75 L674.49,215.32 L675.45,214.89 L676.41,214.45 L677.36,214.02 L678.32,213.59 L679.27,213.16 L680.23,212.72 L681.19,212.29" fill="none" stroke="#d84444" stroke-width="1" stroke-dasharray="2,1.5"/>
<path d="M394.3,247 L395.26,247.23 L396.21,247.45 L397.17,247.68 L398.13,247.9 L399.08,248.13 L400.04,248.35 L400.99,248.58 L401.95,248.8 L402.91,249.03 L403.86,249.26 L404.82,249.48 L405.78,249.71 L406.73,249.93 L407.69,250.16 L408.64,250.38 L409.6,250.61 L410.56,250.83 L411.51,251.06 L412.47,251.28 L413.43,251.51 L414.38,251.74 L415.34,251.96 L416.29,252.19 L417.25,252.41 L418.21,252.64 L419.16,252.86 L420.12,253.09 L421.08,253.31 L422.03,253.54 L422.99,253.76 L423.95,253.99 L424.9,254.22 L425.86,254.44 L426.81,254.67 L427.77,254.89 L428.73,255.12 L429.68,255.34 L430.64,255.57 L431.6,255.79 L432.55,256.02 L433.51,256.24 L434.46,256.47 L435.42,256.69 L436.38,256.92 L437.33,257.14 L438.29,257.37 L439.25,257.59 L440.2,257.82 L441.16,258.04 L442.11,258.27 L443.07,258.5 L444.03,258.72 L444.98,258.95 L445.94,259.17 L446.9,259.39 L447.85,259.62 L448.81,259.84 L449.76,260.07 L450.72,260.29 L451.68,260.52 L452.63,260.74 L453.59,260.97 L454.55,261.19 L455.5,261.42 L456.46,261.64 L457.42,261.87 L458.37,262.09 L459.33,262.31 L460.28,262.54 L461.24,262.76 L462.2,262.99 L463.15,263.21 L464.11,263.43 L465.07,263.66 L466.02,263.88 L466.98,264.11 L467.93,264.33 L468.89,264.55 L469.85,264.78 L470.8,265 L471.76,265.22 L472.72,265.44 L473.67,265.67 L474.63,265.89 L475.58,266.11 L476.54,266.33 L477.5,266.56 L478.45,266.78 L479.41,267 L480.37,267.22 L481.32,267.44 L482.28,267.66 L483.24,267.88 L484.19,268.1 L485.15,268.32 L486.1,268.54 L487.06,268.76 L488.02,268.98 L488.97,269.2 L489.93,269.42 L490.89,269.64 L491.84,269.86 L492.8,270.07 L493.75,270.29 L494.71,270.51 L495.67,270.72 L496.62,270.94 L497.58,271.15 L498.54,271.37 L499.49,271.58 L500.45,271.79 L501.4,272 L502.36,272.22 L503.32,272.43 L504.27,272.64 L505.23,272.85 L506.19,273.05 L507.14,273.26 L508.1,273.47 L509.05,273.67 L510.01,273.88 L510.97,274.08 L511.92,274.28 L512.88,274.49 L513.84,274.69 L514.79,274.88 L515.75,275.08 L516.71,275.28 L517.66,275.47 L518.62,275.66 L519.57,275.85 L520.53,276.04 L521.49,276.23 L522.44,276.41 L523.4,276.6 L524.36,276.78 L525.31,276.95 L526.27,277.13 L527.22,277.3 L528.18,277.47 L529.14,277.64 L530.09,277.81 L531.05,277.97 L532.01,278.13 L532.96,278.28 L533.92,278.43 L534.87,278.58 L535.83,278.73 L536.79,278.87 L537.74,279 L538.7,279.14 L539.66,279.26 L540.61,279.39 L541.57,279.51 L542.53,279.62 L543.48,279.73 L544.44,279.83 L545.39,279.93 L546.35,280.02 L547.31,280.1 L548.26,280.18 L549.22,280.25 L550.18,280.32 L551.13,280.37 L552.09,280.42 L553.04,280.47 L554,280.5 L554.96,280.53 L555.91,280.55 L556.87,280.56 L557.83,280.56 L558.78,280.56 L559.74,280.54 L560.69,280.51 L561.65,280.48 L562.61,280.43 L563.56,280.38 L564.52,280.31 L565.48,280.24 L566.43,280.15 L567.39,280.06 L568.34,279.95 L569.3,279.83 L570.26,279.7 L571.21,279.56 L572.17,279.41 L573.13,279.24 L574.08,279.06 L575.04,278.88 L576,278.68 L576.95,278.47 L577.91,278.24 L578.86,278.01 L579.82,277.76 L580.78,277.5 L581.73,277.23 L582.69,276.95 L583.65,276.66 L584.6,276.35 L585.56,276.04 L586.51,275.71 L587.47,275.37 L588.43,275.02 L589.38,274.66 L590.34,274.29 L591.3,273.91 L592.25,273.52 L593.21,273.11 L594.16,272.7 L595.12,272.28 L596.08,271.85 L597.03,271.41 L597.99,270.96 L598.95,270.5 L599.9,270.04 L600.86,269.56 L601.82,269.08 L602.77,268.59 L603.73,268.09 L604.68,267.59 L605.64,267.07 L606.6,266.55 L607.55,266.03 L608.51,265.49 L609.47,264.96 L610.42,264.41 L611.38,263.86 L612.33,263.3 L613.29,262.74 L614.25,262.18 L615.2,261.61 L616.16,261.03 L617.12,260.45 L618.07,259.86 L619.03,259.27 L619.98,258.68 L620.94,258.08 L621.9,257.48 L622.85,256.88 L623.81,256.27 L624.77,255.66 L625.72,255.05 L626.68,254.43 L627.63,253.81 L628.59,253.19 L629.55,252.56 L630.5,251.94 L631.46,251.31 L632.42,250.68 L633.37,250.04 L634.33,249.41 L635.29,248.77 L636.24,248.13 L637.2,247.49 L638.15,246.84 L639.11,246.2 L640.07,245.55 L641.02,244.91 L641.98,244.26 L642.94,243.61 L643.89,242.96 L644.85,242.3 L645.8,241.65 L646.76,240.99 L647.72,240.34 L648.67,239.68 L649.63,239.02 L650.59,238.36 L651.54,237.7 L652.5,237.04 L653.45,236.38 L654.41,235.72 L655.37,235.06 L656.32,234.4 L657.28,233.73 L658.24,233.07 L659.19,232.4 L660.15,231.74 L661.11,231.07 L662.06,230.4 L663.02,229.74 L663.97,229.07 L664.93,228.4 L665.89,227.73 L666.84,227.07 L667.8,226.4 L668.76,225.73 L669.71,225.06 L670.67,224.39 L671.62,223.72 L672.58,223.05 L673.54,222.38 L674.49,221.71 L675.45,221.04 L676.41,220.37 L677.36,219.69 L678.32,219.02 L679.27,218.35 L680.23,217.68 L681.19,217.01" fill="none" stroke="#1c1cb0" stroke-width="1.1" stroke-dasharray="2.2,1.4"/>
<line x1="394.3" y1="342.5" x2="681.2" y2="212.3" stroke="#7620bc" stroke-width="1.15"/>
<path d="M394.3,245.65 L395.26,245.84 L396.21,246.03 L397.17,246.21 L398.13,246.4 L399.08,246.58 L400.04,246.77 L400.99,246.95 L401.95,247.13 L402.91,247.31 L403.86,247.49 L404.82,247.67 L405.78,247.85 L406.73,248.03 L407.69,248.2 L408.64,248.38 L409.6,248.55 L410.56,248.72 L411.51,248.89 L412.47,249.06 L413.43,249.23 L414.38,249.4 L415.34,249.56 L416.29,249.73 L417.25,249.89 L418.21,250.05 L419.16,250.21 L420.12,250.37 L421.08,250.53 L422.03,250.69 L422.99,250.84 L423.95,251 L424.9,251.15 L425.86,251.3 L426.81,251.45 L427.77,251.6 L428.73,251.74 L429.68,251.89 L430.64,252.03 L431.6,252.17 L432.55,252.31 L433.51,252.45 L434.46,252.59 L435.42,252.72 L436.38,252.85 L437.33,252.99 L438.29,253.12 L439.25,253.24 L440.2,253.37 L441.16,253.5 L442.11,253.62 L443.07,253.74 L444.03,253.86 L444.98,253.98 L445.94,254.1 L446.9,254.22 L447.85,254.33 L448.81,254.44 L449.76,254.55 L450.72,254.66 L451.68,254.77 L452.63,254.87 L453.59,254.98 L454.55,255.08 L455.5,255.18 L456.46,255.28 L457.42,255.38 L458.37,255.47 L459.33,255.56 L460.28,255.66 L461.24,255.75 L462.2,255.84 L463.15,255.92 L464.11,256.01 L465.07,256.09 L466.02,256.18 L466.98,256.26 L467.93,256.34 L468.89,256.41 L469.85,256.49 L470.8,256.57 L471.76,256.64 L472.72,256.71 L473.67,256.78 L474.63,256.85 L475.58,256.92 L476.54,256.98 L477.5,257.05 L478.45,257.11 L479.41,257.17 L480.37,257.23 L481.32,257.29 L482.28,257.35 L483.24,257.4 L484.19,257.46 L485.15,257.51 L486.1,257.56 L487.06,257.61 L488.02,257.66 L488.97,257.71 L489.93,257.76 L490.89,257.8 L491.84,257.85 L492.8,257.89 L493.75,257.93 L494.71,257.97 L495.67,258.01 L496.62,258.05 L497.58,258.08 L498.54,258.12 L499.49,258.15 L500.45,258.19 L501.4,258.22 L502.36,258.25 L503.32,258.28 L504.27,258.31 L505.23,258.33 L506.19,258.36 L507.14,258.38 L508.1,258.41 L509.05,258.43 L510.01,258.45 L510.97,258.47 L511.92,258.49 L512.88,258.51 L513.84,258.52 L514.79,258.54 L515.75,258.55 L516.71,258.56 L517.66,258.57 L518.62,258.58 L519.57,258.59 L520.53,258.6 L521.49,258.6 L522.44,258.6 L523.4,258.61 L524.36,258.61 L525.31,258.61 L526.27,258.6 L527.22,258.6 L528.18,258.59 L529.14,258.59 L530.09,258.58 L531.05,258.56 L532.01,258.55 L532.96,258.54 L533.92,258.52 L534.87,258.5 L535.83,258.48 L536.79,258.45 L537.74,258.43 L538.7,258.4 L539.66,258.37 L540.61,258.33 L541.57,258.3 L542.53,258.26 L543.48,258.21 L544.44,258.17 L545.39,258.12 L546.35,258.07 L547.31,258.01 L548.26,257.95 L549.22,257.89 L550.18,257.83 L551.13,257.76 L552.09,257.68 L553.04,257.61 L554,257.52 L554.96,257.44 L555.91,257.35 L556.87,257.25 L557.83,257.15 L558.78,257.05 L559.74,256.94 L560.69,256.82 L561.65,256.7 L562.61,256.58 L563.56,256.45 L564.52,256.31 L565.48,256.17 L566.43,256.02 L567.39,255.87 L568.34,255.71 L569.3,255.54 L570.26,255.37 L571.21,255.2 L572.17,255.01 L573.13,254.82 L574.08,254.63 L575.04,254.42 L576,254.21 L576.95,254 L577.91,253.78 L578.86,253.55 L579.82,253.31 L580.78,253.07 L581.73,252.83 L582.69,252.57 L583.65,252.32 L584.6,252.05 L585.56,251.78 L586.51,251.5 L587.47,251.22 L588.43,250.93 L589.38,250.63 L590.34,250.33 L591.3,250.03 L592.25,249.72 L593.21,249.4 L594.16,249.08 L595.12,248.75 L596.08,248.42 L597.03,248.08 L597.99,247.74 L598.95,247.4 L599.9,247.05 L600.86,246.69 L601.82,246.33 L602.77,245.97 L603.73,245.61 L604.68,245.24 L605.64,244.86 L606.6,244.48 L607.55,244.1 L608.51,243.72 L609.47,243.33 L610.42,242.94 L611.38,242.55 L612.33,242.15 L613.29,241.75 L614.25,241.35 L615.2,240.95 L616.16,240.54 L617.12,240.13 L618.07,239.72 L619.03,239.31 L619.98,238.89 L620.94,238.47 L621.9,238.05 L622.85,237.63 L623.81,237.2 L624.77,236.78 L625.72,236.35 L626.68,235.92 L627.63,235.49 L628.59,235.05 L629.55,234.62 L630.5,234.18 L631.46,233.74 L632.42,233.3 L633.37,232.86 L634.33,232.42 L635.29,231.98 L636.24,231.53 L637.2,231.08 L638.15,230.63 L639.11,230.18 L640.07,229.73 L641.02,229.28 L641.98,228.82 L642.94,228.37 L643.89,227.91 L644.85,227.45 L645.8,226.99 L646.76,226.53 L647.72,226.07 L648.67,225.6 L649.63,225.14 L650.59,224.67 L651.54,224.2 L652.5,223.73 L653.45,223.26 L654.41,222.79 L655.37,222.32 L656.32,221.84 L657.28,221.37 L658.24,220.89 L659.19,220.41 L660.15,219.93 L661.11,219.45 L662.06,218.96 L663.02,218.48 L663.97,217.99 L664.93,217.5 L665.89,217.01 L666.84,216.52 L667.8,216.03 L668.76,215.53 L669.71,215.04 L670.67,214.54 L671.62,214.04 L672.58,213.54 L673.54,213.04 L674.49,212.53 L675.45,212.03 L676.41,211.52 L677.36,211.01 L678.32,210.5 L679.27,209.99 L680.23,209.47 L681.19,208.96" fill="none" stroke="#111" stroke-width="1.15"/>
<circle cx="457.7" cy="252.6" r="3.3" fill="none" stroke="#761010" stroke-width="1.35"/>
<circle cx="457.7" cy="253.9" r="3.3" fill="none" stroke="#761010" stroke-width="1.35"/>
<circle cx="457.7" cy="255.2" r="3.3" fill="none" stroke="#761010" stroke-width="1.35"/>
<circle cx="457.7" cy="256.5" r="3.3" fill="none" stroke="#761010" stroke-width="1.35"/>
<path d="M476.3,231.1 V243.5 M473.8,231.1 h5 M473.8,243.5 h5" stroke="#761010" stroke-width="0.8" fill="none"/>
<circle cx="476.3" cy="237.4" r="1.1" fill="#761010"/>
<circle cx="476.3" cy="226.8" r="3.3" fill="none" stroke="#761010" stroke-width="1.35"/>
<circle cx="476.3" cy="245.9" r="3.3" fill="none" stroke="#761010" stroke-width="1.35"/>
<circle cx="476.3" cy="247.9" r="3.3" fill="none" stroke="#761010" stroke-width="1.35"/>
<circle cx="476.3" cy="249.2" r="3.3" fill="none" stroke="#761010" stroke-width="1.35"/>
<path d="M498.0,245.5 V252.5 M495.5,245.5 h5 M495.5,252.5 h5" stroke="#761010" stroke-width="0.8" fill="none"/>
<circle cx="498.0" cy="248.8" r="1.1" fill="#761010"/>
<circle cx="498.0" cy="242.6" r="3.3" fill="none" stroke="#761010" stroke-width="1.35"/>
<circle cx="498.0" cy="248.6" r="3.3" fill="none" stroke="#761010" stroke-width="1.35"/>
<circle cx="498.0" cy="255.8" r="3.3" fill="none" stroke="#761010" stroke-width="1.35"/>
<path d="M510.8,250.5 V254.0 M508.3,250.5 h5 M508.3,254.0 h5" stroke="#761010" stroke-width="0.8" fill="none"/>
<circle cx="510.8" cy="252.2" r="1.1" fill="#761010"/>
<circle cx="510.8" cy="248.3" r="3.3" fill="none" stroke="#761010" stroke-width="1.35"/>
<circle cx="510.8" cy="255.5" r="3.3" fill="none" stroke="#761010" stroke-width="1.35"/>
<path d="M527.2,244.0 V257.5 M524.7,244.0 h5 M524.7,257.5 h5" stroke="#761010" stroke-width="0.8" fill="none"/>
<circle cx="527.2" cy="250.5" r="1.1" fill="#761010"/>
<circle cx="527.2" cy="240.7" r="3.3" fill="none" stroke="#761010" stroke-width="1.35"/>
<circle cx="527.2" cy="249.7" r="3.3" fill="none" stroke="#761010" stroke-width="1.35"/>
<circle cx="527.2" cy="261.0" r="3.3" fill="none" stroke="#761010" stroke-width="1.35"/>
<path d="M542.6,229.5 V249.5 M540.1,229.5 h5 M540.1,249.5 h5" stroke="#761010" stroke-width="0.8" fill="none"/>
<circle cx="542.6" cy="237.4" r="1.1" fill="#761010"/>
<circle cx="542.6" cy="224.4" r="3.3" fill="none" stroke="#761010" stroke-width="1.35"/>
<circle cx="542.6" cy="251.9" r="3.3" fill="none" stroke="#761010" stroke-width="1.35"/>
<circle cx="542.6" cy="254.8" r="3.3" fill="none" stroke="#761010" stroke-width="1.35"/>
<path d="M549.9,236.4 V250.0 M547.4,236.4 h5 M547.4,250.0 h5" stroke="#761010" stroke-width="0.8" fill="none"/>
<circle cx="549.9" cy="242.2" r="1.1" fill="#761010"/>
<circle cx="549.9" cy="231.6" r="3.3" fill="none" stroke="#761010" stroke-width="1.35"/>
<circle cx="549.9" cy="252.6" r="3.3" fill="none" stroke="#761010" stroke-width="1.35"/>
<circle cx="549.9" cy="253.7" r="3.3" fill="none" stroke="#761010" stroke-width="1.35"/>
<line x1="583.4" y1="296.4" x2="590" y2="296.4" stroke="#e05050" stroke-width="0.9" stroke-dasharray="1.8,1.2"/>
<line x1="583.4" y1="308.5" x2="590" y2="308.5" stroke="#2a2ad0" stroke-width="0.9" stroke-dasharray="1.8,1.2"/>
<line x1="583.4" y1="320.8" x2="590.3" y2="320.8" stroke="#7620bc" stroke-width="1"/>
<circle cx="586.6" cy="333.7" r="3.3" fill="none" stroke="#761010" stroke-width="1.35"/>
<text x="593.3" y="300" font-size="8.1">NEP<tspan font-size="4.8" dy="2.6" font-style="italic">th</tspan></text>
<text x="593.3" y="311.4" font-size="8.1">NEP<tspan font-size="4.8" dy="2.8" font-style="italic">thm</tspan></text>
<text x="593.4" y="324.3" font-size="8">Photon noise limit</text>
<text x="593.6" y="336.6" font-size="8">Data</text>
<text x="537.4" y="378" font-size="9.2" text-anchor="middle"><tspan font-style="italic">L</tspan> (µm)</text>
<text transform="translate(358.1,275.5) rotate(-90)" font-size="9.4" text-anchor="middle">NEP (pW/√<tspan text-decoration="overline" font-style="italic">Hz</tspan>)</text>
<path d="M216.73,171.00 L216.73,165.73 L215.30,166.70 L215.30,165.98 L216.80,165.00 L217.54,165.00 L217.54,171.00 Z M264.43,171.00 L264.43,165.73 L263.00,166.70 L263.00,165.98 L264.50,165.00 L265.24,165.00 L265.24,171.00 Z M312.13,171.00 L312.13,165.73 L310.70,166.70 L310.70,165.98 L312.20,165.00 L312.94,165.00 L312.94,171.00 Z M359.83,171.00 L359.83,165.73 L358.40,166.70 L358.40,165.98 L359.90,165.00 L360.64,165.00 L360.64,171.00 Z M203.35,159.00 L203.35,153.73 L201.92,154.70 L201.92,153.98 L203.42,153.00 L204.16,153.00 L204.16,159.00 Z M203.35,124.00 L203.35,118.73 L201.92,119.70 L201.92,118.98 L203.42,118.00 L204.16,118.00 L204.16,124.00 Z M203.35,88.00 L203.35,82.73 L201.92,83.70 L201.92,82.98 L203.42,82.00 L204.16,82.00 L204.16,88.00 Z M203.35,53.00 L203.35,47.73 L201.92,48.70 L201.92,47.98 L203.42,47.00 L204.16,47.00 L204.16,53.00 Z M203.35,17.00 L203.35,11.73 L201.92,12.70 L201.92,11.98 L203.42,11.00 L204.16,11.00 L204.16,17.00 Z M449.13,172.00 L449.13,166.73 L447.70,167.70 L447.70,166.98 L449.20,166.00 L449.94,166.00 L449.94,172.00 Z M511.73,172.00 L511.73,166.73 L510.30,167.70 L510.30,166.98 L511.80,166.00 L512.54,166.00 L512.54,172.00 Z M574.33,172.00 L574.33,166.73 L572.90,167.70 L572.90,166.98 L574.40,166.00 L575.14,166.00 L575.14,172.00 Z M636.93,172.00 L636.93,166.73 L635.50,167.70 L635.50,166.98 L637.00,166.00 L637.74,166.00 L637.74,172.00 Z M436.15,141.00 L436.15,135.73 L434.72,136.70 L434.72,135.98 L436.22,135.00 L436.96,135.00 L436.96,141.00 Z M436.15,79.00 L436.15,73.73 L434.72,74.70 L434.72,73.98 L436.22,73.00 L436.96,73.00 L436.96,79.00 Z M436.15,18.00 L436.15,12.73 L434.72,13.70 L434.72,12.98 L436.22,12.00 L436.96,12.00 L436.96,18.00 Z M41.29,362.00 L41.29,356.73 L39.87,357.70 L39.87,356.98 L41.36,356.00 L42.11,356.00 L42.11,362.00 Z M87.53,362.00 L87.53,356.73 L86.11,357.70 L86.11,356.98 L87.60,356.00 L88.35,356.00 L88.35,362.00 Z M133.77,362.00 L133.77,356.73 L132.35,357.70 L132.35,356.98 L133.84,356.00 L134.59,356.00 L134.59,362.00 Z M180.01,362.00 L180.01,356.73 L178.58,357.70 L178.58,356.98 L180.07,356.00 L180.82,356.00 L180.82,362.00 Z M228.09,362.00 L228.09,356.73 L226.66,357.70 L226.66,356.98 L228.16,356.00 L228.90,356.00 L228.90,362.00 Z M274.33,362.00 L274.33,356.73 L272.90,357.70 L272.90,356.98 L274.40,356.00 L275.14,356.00 L275.14,362.00 Z M22.34,350.00 L22.34,344.73 L20.92,345.70 L20.92,344.98 L22.41,344.00 L23.16,344.00 L23.16,350.00 Z M25.88,315.00 L25.88,309.73 L24.45,310.70 L24.45,309.98 L25.94,309.00 L26.69,309.00 L26.69,315.00 Z M25.88,279.00 L25.88,273.73 L24.45,274.70 L24.45,273.98 L25.94,273.00 L26.69,273.00 L26.69,279.00 Z M25.88,244.00 L25.88,238.73 L24.45,239.70 L24.45,238.98 L25.94,238.00 L26.69,238.00 L26.69,244.00 Z M25.88,208.00 L25.88,202.73 L24.45,203.70 L24.45,202.98 L25.94,202.00 L26.69,202.00 L26.69,208.00 Z M390.03,362.00 L390.03,356.73 L388.60,357.70 L388.60,356.98 L390.10,356.00 L390.84,356.00 L390.84,362.00 Z M467.63,362.00 L467.63,356.73 L466.20,357.70 L466.20,356.98 L467.70,356.00 L468.44,356.00 L468.44,362.00 Z M545.23,362.00 L545.23,356.73 L543.80,357.70 L543.80,356.98 L545.30,356.00 L546.04,356.00 L546.04,362.00 Z M622.83,362.00 L622.83,356.73 L621.40,357.70 L621.40,356.98 L622.90,356.00 L623.64,356.00 L623.64,362.00 Z M372.98,350.00 L372.98,344.73 L371.55,345.70 L371.55,344.98 L373.04,344.00 L373.79,344.00 L373.79,350.00 Z M372.96,315.00 L372.96,309.73 L371.53,310.70 L371.53,309.98 L373.03,309.00 L373.77,309.00 L373.77,315.00 Z M376.65,279.00 L376.65,273.73 L375.22,274.70 L375.22,273.98 L376.72,273.00 L377.46,273.00 L377.46,279.00 Z M376.65,244.00 L376.65,238.73 L375.22,239.70 L375.22,238.98 L376.72,238.00 L377.46,238.00 L377.46,244.00 Z M376.65,208.00 L376.65,202.73 L375.22,203.70 L375.22,202.98 L376.72,202.00 L377.46,202.00 L377.46,208.00 Z" fill="#111" stroke="#111" stroke-width="0.22"/><path d="M226.25,167.00 L226.25,163.49 L225.27,164.13 L225.27,163.65 L226.30,163.00 L226.81,163.00 L226.81,167.00 Z M212.87,120.00 L212.87,116.49 L211.89,117.13 L211.89,116.65 L212.91,116.00 L213.43,116.00 L213.43,120.00 Z M458.65,168.00 L458.65,164.49 L457.67,165.13 L457.67,164.65 L458.70,164.00 L459.21,164.00 L459.21,168.00 Z M193.22,358.00 L193.22,354.49 L192.24,355.13 L192.24,354.65 L193.26,354.00 L193.77,354.00 L193.77,358.00 Z M283.85,358.00 L283.85,354.49 L282.87,355.13 L282.87,354.65 L283.90,354.00 L284.41,354.00 L284.41,358.00 Z M35.55,346.00 L35.55,342.49 L34.57,343.13 L34.57,342.65 L35.60,342.00 L36.11,342.00 L36.11,346.00 Z M399.55,358.00 L399.55,354.49 L398.57,355.13 L398.57,354.65 L399.60,354.00 L400.11,354.00 L400.11,358.00 Z M386.17,311.00 L386.17,307.49 L385.19,308.13 L385.19,307.65 L386.21,307.00 L386.73,307.00 L386.73,311.00 Z M386.17,240.00 L386.17,236.49 L385.19,237.13 L385.19,236.65 L386.21,236.00 L386.73,236.00 L386.73,240.00 Z" fill="#111" stroke="#111" stroke-width="0.08"/>
</g></svg></body></html>
